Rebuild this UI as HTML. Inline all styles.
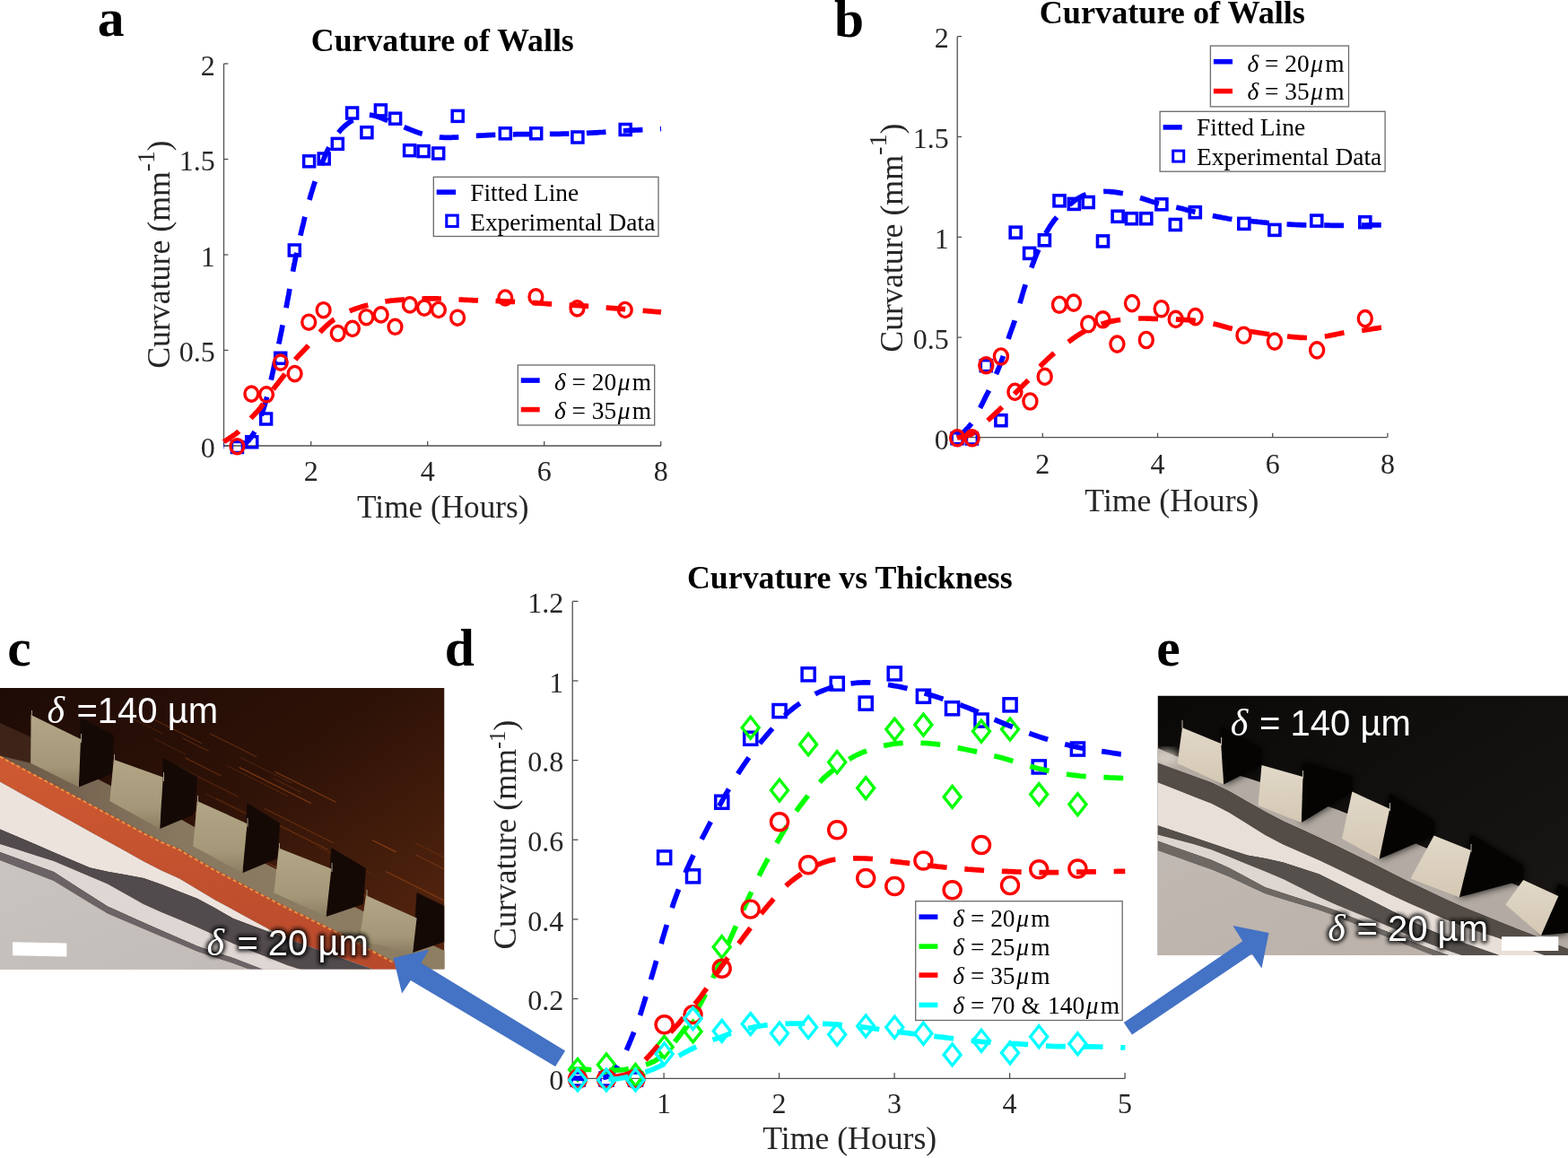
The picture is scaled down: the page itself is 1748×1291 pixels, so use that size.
<!DOCTYPE html>
<html><head><meta charset="utf-8"><title>Curvature figure</title>
<style>html,body{margin:0;padding:0;background:#fff;} svg{display:block;}</style></head>
<body><svg width="1748" height="1291" viewBox="0 0 1748 1291">
<rect width="1748" height="1291" fill="#fff"/>
<defs>
<filter id="glow" x="-10%" y="-30%" width="120%" height="160%"><feGaussianBlur stdDeviation="2.2"/></filter>
<filter id="soft" x="-20%" y="-20%" width="140%" height="140%"><feGaussianBlur stdDeviation="5"/></filter>
<linearGradient id="gbgc" x1="0" y1="0" x2="1" y2="1">
 <stop offset="0" stop-color="#1e0b06"/><stop offset="0.45" stop-color="#2e1207"/><stop offset="1" stop-color="#5a2810"/></linearGradient>
<linearGradient id="gfloorc" x1="0" y1="0" x2="1" y2="0">
 <stop offset="0" stop-color="#6a5646"/><stop offset="0.4" stop-color="#887860"/><stop offset="1" stop-color="#8e7e62"/></linearGradient>
<linearGradient id="gblockc" x1="0" y1="0" x2="0" y2="1">
 <stop offset="0" stop-color="#b2a686"/><stop offset="0.7" stop-color="#a49878"/><stop offset="1" stop-color="#8c7e62"/></linearGradient>
<linearGradient id="gorange" x1="0" y1="0" x2="0" y2="1">
 <stop offset="0" stop-color="#cf5a32"/><stop offset="1" stop-color="#b2452a"/></linearGradient>
<linearGradient id="ggreyc" x1="0" y1="0" x2="1" y2="1">
 <stop offset="0" stop-color="#c9c4c0"/><stop offset="1" stop-color="#bdb6b2"/></linearGradient>
<linearGradient id="gbge" x1="0" y1="0" x2="1" y2="1">
 <stop offset="0" stop-color="#0b0908"/><stop offset="0.6" stop-color="#141210"/><stop offset="1" stop-color="#1a1715"/></linearGradient>
<linearGradient id="gfloore" x1="0" y1="0" x2="0" y2="1">
 <stop offset="0" stop-color="#2a2622"/><stop offset="0.6" stop-color="#8a827a"/><stop offset="1" stop-color="#cfc7bf"/></linearGradient>
<linearGradient id="gblocke" x1="0" y1="0" x2="0" y2="1">
 <stop offset="0" stop-color="#e2d8c8"/><stop offset="1" stop-color="#d4c8b4"/></linearGradient>
<linearGradient id="ggreye" x1="0" y1="0" x2="1" y2="1">
 <stop offset="0" stop-color="#c0b8b2"/><stop offset="1" stop-color="#b8aea6"/></linearGradient>
</defs>
<clipPath id="clipc"><rect x="0" y="767" width="495.5" height="313.5"/></clipPath>
<g clip-path="url(#clipc)">
<rect x="0" y="767" width="495.5" height="313.5" fill="url(#gbgc)"/>
<line x1="253.6" y1="854.0" x2="320.9" y2="887.6" stroke="#d8641e" stroke-width="1.2" opacity="0.17"/>
<line x1="267.0" y1="844.0" x2="325.0" y2="872.9" stroke="#d8641e" stroke-width="1.1" opacity="0.16"/>
<line x1="172.4" y1="802.5" x2="224.9" y2="828.8" stroke="#d8641e" stroke-width="0.9" opacity="0.40"/>
<line x1="221.4" y1="923.7" x2="308.0" y2="967.0" stroke="#d8641e" stroke-width="1.1" opacity="0.32"/>
<line x1="462.4" y1="939.6" x2="543.2" y2="980.0" stroke="#d8641e" stroke-width="0.9" opacity="0.24"/>
<line x1="187.7" y1="849.4" x2="265.7" y2="888.4" stroke="#d8641e" stroke-width="1.3" opacity="0.20"/>
<line x1="354.5" y1="944.3" x2="415.1" y2="974.6" stroke="#d8641e" stroke-width="0.8" opacity="0.17"/>
<line x1="215.9" y1="930.4" x2="268.7" y2="956.8" stroke="#d8641e" stroke-width="1.3" opacity="0.24"/>
<line x1="295.0" y1="901.5" x2="371.7" y2="939.8" stroke="#d8641e" stroke-width="1.0" opacity="0.36"/>
<line x1="333.8" y1="961.4" x2="415.7" y2="1002.4" stroke="#d8641e" stroke-width="1.0" opacity="0.37"/>
<line x1="463.7" y1="953.1" x2="515.8" y2="979.2" stroke="#d8641e" stroke-width="0.9" opacity="0.38"/>
<line x1="306.5" y1="860.3" x2="374.9" y2="894.5" stroke="#d8641e" stroke-width="1.3" opacity="0.38"/>
<line x1="430.2" y1="971.6" x2="500.3" y2="1006.6" stroke="#d8641e" stroke-width="1.3" opacity="0.33"/>
<line x1="296.0" y1="999.2" x2="382.4" y2="1042.4" stroke="#d8641e" stroke-width="1.3" opacity="0.29"/>
<line x1="169.4" y1="911.0" x2="236.5" y2="944.5" stroke="#d8641e" stroke-width="1.5" opacity="0.45"/>
<line x1="241.1" y1="890.0" x2="309.5" y2="924.2" stroke="#d8641e" stroke-width="1.2" opacity="0.16"/>
<line x1="203.8" y1="823.0" x2="232.6" y2="837.4" stroke="#d8641e" stroke-width="0.9" opacity="0.38"/>
<line x1="229.2" y1="885.0" x2="310.9" y2="925.8" stroke="#d8641e" stroke-width="1.2" opacity="0.17"/>
<line x1="325.8" y1="1021.9" x2="404.1" y2="1061.0" stroke="#d8641e" stroke-width="1.0" opacity="0.41"/>
<line x1="282.9" y1="906.0" x2="365.4" y2="947.3" stroke="#d8641e" stroke-width="0.9" opacity="0.44"/>
<line x1="206.4" y1="844.9" x2="246.6" y2="865.0" stroke="#d8641e" stroke-width="1.3" opacity="0.30"/>
<line x1="234.1" y1="817.8" x2="286.3" y2="843.9" stroke="#d8641e" stroke-width="1.3" opacity="0.26"/>
<line x1="455.0" y1="1051.8" x2="513.5" y2="1081.0" stroke="#d8641e" stroke-width="1.3" opacity="0.34"/>
<line x1="167.3" y1="945.6" x2="243.0" y2="983.4" stroke="#d8641e" stroke-width="1.4" opacity="0.41"/>
<line x1="275.6" y1="909.6" x2="307.3" y2="925.5" stroke="#d8641e" stroke-width="0.8" opacity="0.34"/>
<line x1="171.6" y1="823.4" x2="207.1" y2="841.1" stroke="#d8641e" stroke-width="0.8" opacity="0.25"/>
<line x1="150.1" y1="802.3" x2="181.7" y2="818.1" stroke="#d8641e" stroke-width="0.8" opacity="0.26"/>
<line x1="429.8" y1="1025.4" x2="464.4" y2="1042.8" stroke="#d8641e" stroke-width="1.1" opacity="0.23"/>
<line x1="266.5" y1="855.4" x2="346.7" y2="895.5" stroke="#d8641e" stroke-width="1.2" opacity="0.45"/>
<line x1="304.8" y1="867.9" x2="336.5" y2="883.7" stroke="#d8641e" stroke-width="1.0" opacity="0.25"/>
<line x1="415.2" y1="936.7" x2="441.7" y2="949.9" stroke="#d8641e" stroke-width="1.2" opacity="0.44"/>
<line x1="196.9" y1="896.2" x2="223.7" y2="909.6" stroke="#d8641e" stroke-width="1.6" opacity="0.31"/>
<line x1="426.3" y1="1038.4" x2="468.2" y2="1059.4" stroke="#d8641e" stroke-width="0.9" opacity="0.26"/>
<line x1="397.0" y1="994.4" x2="472.7" y2="1032.2" stroke="#d8641e" stroke-width="1.0" opacity="0.25"/>
<polygon points="0.0,812.6 20.0,822.9 40.0,833.1 60.0,843.4 80.0,853.6 100.0,863.9 120.0,874.2 140.0,884.5 160.0,894.8 180.0,904.4 200.0,912.5 220.0,923.7 240.0,934.8 260.0,944.9 280.0,955.0 300.0,965.1 320.0,974.9 340.0,984.3 360.0,993.7 380.0,1003.1 400.0,1013.4 420.0,1023.8 440.0,1034.0 460.0,1043.4 480.0,1052.8 495.5,1060.1 500.0,1062.2 500.0,1102.2 495.5,1100.0 480.0,1092.4 460.0,1082.6 440.0,1072.8 420.0,1062.2 400.0,1051.4 380.0,1040.7 360.0,1030.9 340.0,1021.1 320.0,1011.3 300.0,1001.1 280.0,990.6 260.0,980.1 240.0,969.6 220.0,958.0 200.0,946.5 180.0,938.0 160.0,928.0 140.0,917.3 120.0,906.6 100.0,895.9 80.0,885.2 60.0,874.6 40.0,863.9 20.0,853.3 0.0,842.6" fill="url(#gfloorc)" />
<polygon points="0.0,806.0 35.0,822.0 34.2,850.7 0.0,842.6" fill="#3e2418" />
<polygon points="90.0,800.0 127.0,820.0 125.0,862.6 87.8,877.5" fill="#150906" />
<polygon points="181.8,845.0 220.0,866.0 217.0,907.8 178.1,924.1" fill="#150906" />
<polygon points="275.5,895.0 312.0,918.0 309.7,956.8 270.3,973.2" fill="#150906" />
<polygon points="369.4,945.0 408.0,968.0 405.0,1008.0 363.5,1022.0" fill="#150906" />
<polygon points="464.6,995.0 495.5,1010.0 495.5,1050.0 460.1,1062.1" fill="#150906" />
<polygon points="34.5,797.0 90.0,824.0 87.8,877.5 34.2,850.7" fill="url(#gblockc)" />
<polygon points="126.8,846.8 181.8,866.5 178.1,924.1 122.3,893.0" fill="url(#gblockc)" />
<polygon points="219.7,892.9 275.5,918.2 270.3,973.2 215.3,943.5" fill="url(#gblockc)" />
<polygon points="310.7,945.4 369.4,968.4 363.5,1022.0 305.4,995.2" fill="url(#gblockc)" />
<polygon points="408.0,998.2 464.6,1023.5 460.1,1062.1 400.6,1048.7" fill="url(#gblockc)" />
<line x1="35.5" y1="792" x2="35.5" y2="802" stroke="#a89a80" stroke-width="1"/>
<line x1="90.5" y1="818" x2="90.5" y2="828" stroke="#a89a80" stroke-width="1"/>
<line x1="127.5" y1="841" x2="127.5" y2="851" stroke="#a89a80" stroke-width="1"/>
<line x1="182.5" y1="861" x2="182.5" y2="871" stroke="#a89a80" stroke-width="1"/>
<line x1="220.5" y1="887" x2="220.5" y2="897" stroke="#a89a80" stroke-width="1"/>
<line x1="276" y1="912" x2="276" y2="922" stroke="#a89a80" stroke-width="1"/>
<line x1="311.5" y1="940" x2="311.5" y2="950" stroke="#a89a80" stroke-width="1"/>
<line x1="370" y1="962" x2="370" y2="972" stroke="#a89a80" stroke-width="1"/>
<line x1="409" y1="992" x2="409" y2="1002" stroke="#a89a80" stroke-width="1"/>
<polygon points="0.0,842.6 20.0,853.3 40.0,863.9 60.0,874.6 80.0,885.2 100.0,895.9 120.0,906.6 140.0,917.3 160.0,928.0 180.0,938.0 200.0,946.5 220.0,958.0 240.0,969.6 260.0,980.1 280.0,990.6 300.0,1001.1 320.0,1011.3 340.0,1021.1 360.0,1030.9 380.0,1040.7 400.0,1051.4 420.0,1062.2 440.0,1072.8 460.0,1082.6 480.0,1092.4 495.5,1100.0 500.0,1102.2 500.0,1141.2 495.5,1138.9 480.0,1131.0 460.0,1120.8 440.0,1110.6 420.0,1099.6 400.0,1088.4 380.0,1077.3 360.0,1067.1 340.0,1056.9 320.0,1046.7 300.0,1036.1 280.0,1025.2 260.0,1014.3 240.0,1003.4 220.0,991.5 200.0,979.5 180.0,970.6 160.0,960.2 140.0,949.1 120.0,938.0 100.0,926.9 80.0,915.8 60.0,904.8 40.0,893.7 20.0,882.7 0.0,871.6" fill="url(#gorange)" />
<polyline points="0,843.6 100,896.9 160,929 180,939 200,947.5 240,970.6 314.4,1009.6 379.8,1041.6 439.3,1073.5 495.5,1101" fill="none" stroke="#f0a048" stroke-width="2" stroke-dasharray="4 3" opacity="0.85"/>
<polygon points="0.0,871.6 20.0,882.7 40.0,893.7 60.0,904.8 80.0,915.8 100.0,926.9 120.0,938.0 140.0,949.1 160.0,960.2 180.0,970.6 200.0,979.5 220.0,991.5 240.0,1003.4 260.0,1014.3 280.0,1025.2 300.0,1036.1 320.0,1046.7 340.0,1056.9 360.0,1067.1 380.0,1077.3 400.0,1088.4 420.0,1099.6 440.0,1110.6 460.0,1120.8 480.0,1131.0 495.5,1138.9 500.0,1141.2 500.0,1101.1 495.5,1100.0 480.0,1096.3 460.0,1091.5 440.0,1086.8 420.0,1082.0 400.0,1074.9 380.0,1067.8 360.0,1060.7 340.0,1053.6 320.0,1046.3 300.0,1038.9 280.0,1031.4 260.0,1024.0 240.0,1012.6 220.0,1001.8 200.0,993.9 180.0,986.0 160.0,978.9 140.0,975.3 120.0,971.8 100.0,967.3 80.0,958.7 60.0,950.2 40.0,941.6 20.0,933.1 0.0,924.5" fill="#ede3dd" />
<polygon points="0.0,924.5 20.0,933.1 40.0,941.6 60.0,950.2 80.0,958.7 100.0,967.3 120.0,971.8 140.0,975.3 160.0,978.9 180.0,986.0 200.0,993.9 220.0,1001.8 240.0,1012.6 260.0,1024.0 280.0,1031.4 300.0,1038.9 320.0,1046.3 340.0,1053.6 360.0,1060.7 380.0,1067.8 400.0,1074.9 420.0,1082.0 440.0,1086.8 460.0,1091.5 480.0,1096.3 495.5,1100.0 500.0,1101.1 500.0,1121.1 495.5,1120.0 480.0,1116.3 460.0,1111.4 440.0,1106.6 420.0,1101.8 400.0,1096.9 380.0,1092.1 360.0,1087.3 340.0,1082.4 320.0,1076.0 300.0,1068.0 280.0,1060.0 260.0,1052.0 240.0,1042.8 220.0,1033.7 200.0,1025.3 180.0,1016.9 160.0,1008.0 140.0,996.8 120.0,985.6 100.0,976.9 80.0,968.5 60.0,960.0 40.0,953.7 20.0,947.3 0.0,941.0" fill="#514b4d" />
<polygon points="0.0,941.0 20.0,947.3 40.0,953.7 60.0,960.0 80.0,968.5 100.0,976.9 120.0,985.6 140.0,996.8 160.0,1008.0 180.0,1016.9 200.0,1025.3 220.0,1033.7 240.0,1042.8 260.0,1052.0 280.0,1060.0 300.0,1068.0 320.0,1076.0 340.0,1082.4 360.0,1087.3 380.0,1092.1 400.0,1096.9 420.0,1101.8 440.0,1106.6 460.0,1111.4 480.0,1116.3 495.5,1120.0 500.0,1121.1 500.0,1131.0 495.5,1130.0 480.0,1126.7 460.0,1122.5 440.0,1118.3 420.0,1114.0 400.0,1109.8 380.0,1105.6 360.0,1101.3 340.0,1097.1 320.0,1091.1 300.0,1083.4 280.0,1075.7 260.0,1068.0 240.0,1061.5 220.0,1054.7 200.0,1045.9 180.0,1037.2 160.0,1028.4 140.0,1019.4 120.0,1010.4 100.0,997.8 80.0,984.9 60.0,972.0 40.0,964.7 20.0,957.3 0.0,950.0" fill="#ded6d2" />
<polygon points="0.0,950.0 20.0,957.3 40.0,964.7 60.0,972.0 80.0,984.9 100.0,997.8 120.0,1010.4 140.0,1019.4 160.0,1028.4 180.0,1037.2 200.0,1045.9 220.0,1054.7 240.0,1061.5 260.0,1068.0 280.0,1075.7 300.0,1083.4 320.0,1091.1 340.0,1097.1 360.0,1101.3 380.0,1105.6 400.0,1109.8 420.0,1114.0 440.0,1118.3 460.0,1122.5 480.0,1126.7 495.5,1130.0 500.0,1131.0 500.0,1136.0 495.5,1135.0 480.0,1131.7 460.0,1127.5 440.0,1123.3 420.0,1119.0 400.0,1114.8 380.0,1110.6 360.0,1106.3 340.0,1102.1 320.0,1096.3 300.0,1088.9 280.0,1081.4 260.0,1074.0 240.0,1067.5 220.0,1060.7 200.0,1052.3 180.0,1043.9 160.0,1035.5 140.0,1026.9 120.0,1018.4 100.0,1006.4 80.0,994.2 60.0,982.0 40.0,974.3 20.0,966.7 0.0,959.0" fill="#6a6466" />
<polygon points="0.0,959.0 20.0,966.7 40.0,974.3 60.0,982.0 80.0,994.2 100.0,1006.4 120.0,1018.4 140.0,1026.9 160.0,1035.5 180.0,1043.9 200.0,1052.3 220.0,1060.7 240.0,1067.5 260.0,1074.0 280.0,1081.4 300.0,1088.9 320.0,1096.3 340.0,1102.1 360.0,1106.3 380.0,1110.6 400.0,1114.8 420.0,1119.0 440.0,1123.3 460.0,1127.5 480.0,1131.7 495.5,1135.0 500.0,1136.0 500.0,1140.5 495.5,1140.0 480.0,1138.4 460.0,1136.4 440.0,1134.4 420.0,1132.4 400.0,1130.4 380.0,1128.3 360.0,1126.3 340.0,1124.3 320.0,1122.3 300.0,1120.3 280.0,1118.3 260.0,1116.2 240.0,1114.2 220.0,1112.2 200.0,1110.2 180.0,1108.2 160.0,1106.1 140.0,1104.1 120.0,1102.1 100.0,1100.1 80.0,1098.1 60.0,1096.1 40.0,1094.0 20.0,1092.0 0.0,1090.0" fill="url(#ggreyc)" />
<polygon points="14.1,1050.2 74.4,1051.5 74.4,1066.5 14.1,1065.2" fill="#fff"/>
</g>
<text x="52.5" y="806.2" font-family="Liberation Serif,serif" font-style="italic" font-size="42" fill="#fff">δ</text><text x="85.5" y="806.2" font-family="Liberation Sans,Arial,sans-serif" font-size="40" fill="#fff">=140 µm</text>
<g filter="url(#glow)" fill="#000" stroke="#000" stroke-width="5" stroke-linejoin="round" opacity="0.85"><text x="230.5" y="1064.5" font-family="Liberation Serif,serif" font-style="italic" font-size="42">δ</text><text x="264.4" y="1064.5" font-family="Liberation Sans,Arial,sans-serif" font-size="40">= 20 µm</text></g><text x="230.5" y="1064.5" font-family="Liberation Serif,serif" font-style="italic" font-size="42" fill="#fff">δ</text><text x="264.4" y="1064.5" font-family="Liberation Sans,Arial,sans-serif" font-size="40" fill="#fff">= 20 µm</text>
<clipPath id="clipe"><rect x="1290.5" y="775.5" width="457.5" height="289.5"/></clipPath>
<g clip-path="url(#clipe)">
<rect x="1290.5" y="775.5" width="457.5" height="289.5" fill="url(#gbge)"/>
<polygon points="1290.5,834.0 1310.5,842.7 1330.5,849.7 1350.5,855.5 1370.5,861.4 1390.5,867.2 1410.5,873.8 1430.5,881.0 1450.5,888.2 1470.5,895.4 1490.5,902.6 1510.5,910.6 1530.5,919.4 1550.5,928.2 1570.5,937.0 1590.5,945.8 1610.5,954.3 1630.5,962.4 1650.5,970.5 1670.5,978.6 1690.5,986.7 1710.5,994.8 1730.5,1002.9 1748.0,1010.0 1750.5,1011.0 1750.5,1059.0 1748.0,1058.0 1730.5,1051.1 1710.5,1043.1 1690.5,1035.2 1670.5,1027.2 1650.5,1019.1 1630.5,1011.0 1610.5,1002.0 1590.5,992.5 1570.5,983.0 1550.5,973.1 1530.5,962.7 1510.5,952.9 1490.5,943.3 1470.5,933.8 1450.5,924.6 1430.5,915.4 1410.5,905.1 1390.5,893.7 1370.5,882.2 1350.5,872.6 1330.5,865.2 1310.5,857.9 1290.5,850.5" fill="#b3aba3" />
<ellipse cx="1300" cy="845" rx="14" ry="9" fill="#d6cec4" opacity="0.9" filter="url(#soft)"/>
<g filter="url(#soft)" fill="#050403">
<polygon points="1361.2,810.0 1405.8,835.0 1405.8,853.0 1364.0,874.4" fill="#050403" />
<polygon points="1452.5,850.0 1507.4,865.0 1507.4,882.6 1451.1,916.9" fill="#050403" />
<polygon points="1549.2,885.0 1598.6,915.0 1598.6,931.6 1537.5,957.7" fill="#050403" />
<polygon points="1639.8,930.0 1698.2,965.0 1698.2,981.0 1626.8,1000.2" fill="#050403" />
<polygon points="1737.3,985.0 1748.0,990.0 1748.0,1040.0 1718.0,1042.8" fill="#050403" />
</g>
<polygon points="1361.2,810.0 1405.8,835.0 1405.8,853.0 1364.0,874.4" fill="#050403" />
<polygon points="1452.5,850.0 1507.4,865.0 1507.4,882.6 1451.1,916.9" fill="#050403" />
<polygon points="1549.2,885.0 1598.6,915.0 1598.6,931.6 1537.5,957.7" fill="#050403" />
<polygon points="1639.8,930.0 1698.2,965.0 1698.2,981.0 1626.8,1000.2" fill="#050403" />
<polygon points="1737.3,985.0 1748.0,990.0 1748.0,1040.0 1718.0,1042.8" fill="#050403" />
<polygon points="1318.0,811.2 1361.2,829.0 1364.0,874.4 1312.5,851.0" fill="url(#gblocke)" />
<polygon points="1406.5,853.0 1452.5,866.1 1450.6,916.9 1402.5,898.0" fill="url(#gblocke)" />
<polygon points="1507.4,882.6 1549.2,901.8 1537.5,957.7 1496.0,935.0" fill="url(#gblocke)" />
<polygon points="1598.6,931.6 1639.8,948.1 1626.8,1000.2 1572.5,979.6" fill="url(#gblocke)" />
<polygon points="1698.2,981.0 1737.3,998.9 1718.0,1042.8 1678.3,1008.5" fill="url(#gblocke)" />
<line x1="1318" y1="803" x2="1318" y2="812" stroke="#bdb3a6" stroke-width="1"/>
<line x1="1361.5" y1="822" x2="1361.5" y2="831" stroke="#bdb3a6" stroke-width="1"/>
<line x1="1452.5" y1="859" x2="1452.5" y2="868" stroke="#bdb3a6" stroke-width="1"/>
<line x1="1549.5" y1="895" x2="1549.5" y2="904" stroke="#bdb3a6" stroke-width="1"/>
<line x1="1640" y1="941" x2="1640" y2="950" stroke="#bdb3a6" stroke-width="1"/>
<polygon points="1290.5,850.5 1310.5,857.9 1330.5,865.2 1350.5,872.6 1370.5,882.2 1390.5,893.7 1410.5,905.1 1430.5,915.4 1450.5,924.6 1470.5,933.8 1490.5,943.3 1510.5,952.9 1530.5,962.7 1550.5,973.1 1570.5,983.0 1590.5,992.5 1610.5,1002.0 1630.5,1011.0 1650.5,1019.1 1670.5,1027.2 1690.5,1035.2 1710.5,1043.1 1730.5,1051.1 1748.0,1058.0 1750.5,1059.0 1750.5,1076.0 1748.0,1075.0 1730.5,1068.3 1710.5,1060.7 1690.5,1053.0 1670.5,1045.8 1650.5,1039.2 1630.5,1032.5 1610.5,1024.4 1590.5,1015.6 1570.5,1006.7 1550.5,997.4 1530.5,987.8 1510.5,978.2 1490.5,968.6 1470.5,959.1 1450.5,950.3 1430.5,941.5 1410.5,931.0 1390.5,918.5 1370.5,906.0 1350.5,895.7 1330.5,887.9 1310.5,880.0 1290.5,872.2" fill="#544c46" />
<polygon points="1290.5,872.2 1310.5,880.0 1330.5,887.9 1350.5,895.7 1370.5,906.0 1390.5,918.5 1410.5,931.0 1430.5,941.5 1450.5,950.3 1470.5,959.1 1490.5,968.6 1510.5,978.2 1530.5,987.8 1550.5,997.4 1570.5,1006.7 1590.5,1015.6 1610.5,1024.4 1630.5,1032.5 1650.5,1039.2 1670.5,1045.8 1690.5,1053.0 1710.5,1060.7 1730.5,1068.3 1748.0,1075.0 1750.5,1076.0 1750.5,1092.9 1748.0,1092.0 1730.5,1085.9 1710.5,1078.8 1690.5,1071.8 1670.5,1064.8 1650.5,1057.7 1630.5,1050.7 1610.5,1043.7 1590.5,1035.2 1570.5,1025.1 1550.5,1014.9 1530.5,1004.8 1510.5,994.6 1490.5,984.4 1470.5,974.5 1450.5,968.0 1430.5,961.4 1410.5,956.9 1390.5,953.6 1370.5,947.0 1350.5,940.3 1330.5,933.6 1310.5,926.9 1290.5,920.2" fill="#e8dfd8" />
<polygon points="1290.5,920.2 1310.5,926.9 1330.5,933.6 1350.5,940.3 1370.5,947.0 1390.5,953.6 1410.5,956.9 1430.5,961.4 1450.5,968.0 1470.5,974.5 1490.5,984.4 1510.5,994.6 1530.5,1004.8 1550.5,1014.9 1570.5,1025.1 1590.5,1035.2 1610.5,1043.7 1630.5,1050.7 1650.5,1057.7 1670.5,1064.8 1690.5,1071.8 1710.5,1078.8 1730.5,1085.9 1748.0,1092.0 1750.5,1092.9 1750.5,1105.8 1748.0,1105.0 1730.5,1099.1 1710.5,1092.3 1690.5,1085.6 1670.5,1078.8 1650.5,1072.1 1630.5,1065.3 1610.5,1058.5 1590.5,1050.9 1570.5,1042.4 1550.5,1033.8 1530.5,1025.2 1510.5,1017.2 1490.5,1009.1 1470.5,1000.0 1450.5,990.0 1430.5,980.0 1410.5,971.6 1390.5,963.4 1370.5,955.3 1350.5,947.3 1330.5,940.9 1310.5,935.8 1290.5,930.6" fill="#55504c" />
<polygon points="1290.5,930.6 1310.5,935.8 1330.5,940.9 1350.5,947.3 1370.5,955.3 1390.5,963.4 1410.5,971.6 1430.5,980.0 1450.5,990.0 1470.5,1000.0 1490.5,1009.1 1510.5,1017.2 1530.5,1025.2 1550.5,1033.8 1570.5,1042.4 1590.5,1050.9 1610.5,1058.5 1630.5,1065.3 1650.5,1072.1 1670.5,1078.8 1690.5,1085.6 1710.5,1092.3 1730.5,1099.1 1748.0,1105.0 1750.5,1105.8 1750.5,1110.8 1748.0,1110.0 1730.5,1104.1 1710.5,1097.3 1690.5,1090.6 1670.5,1083.8 1650.5,1077.1 1630.5,1070.3 1610.5,1063.5 1590.5,1056.2 1570.5,1048.2 1550.5,1040.2 1530.5,1032.2 1510.5,1023.9 1490.5,1015.6 1470.5,1008.5 1450.5,1002.2 1430.5,995.8 1410.5,989.2 1390.5,978.5 1370.5,967.8 1350.5,958.8 1330.5,951.7 1310.5,944.7 1290.5,937.6" fill="#ddd5cf" />
<polygon points="1290.5,937.6 1310.5,944.7 1330.5,951.7 1350.5,958.8 1370.5,967.8 1390.5,978.5 1410.5,989.2 1430.5,995.8 1450.5,1002.2 1470.5,1008.5 1490.5,1015.6 1510.5,1023.9 1530.5,1032.2 1550.5,1040.2 1570.5,1048.2 1590.5,1056.2 1610.5,1063.5 1630.5,1070.3 1650.5,1077.1 1670.5,1083.8 1690.5,1090.6 1710.5,1097.3 1730.5,1104.1 1748.0,1110.0 1750.5,1110.8 1750.5,1115.8 1748.0,1115.0 1730.5,1109.2 1710.5,1102.6 1690.5,1096.0 1670.5,1089.3 1650.5,1082.7 1630.5,1076.1 1610.5,1069.5 1590.5,1062.2 1570.5,1054.2 1550.5,1046.2 1530.5,1038.2 1510.5,1029.9 1490.5,1021.6 1470.5,1014.6 1450.5,1008.6 1430.5,1002.6 1410.5,996.3 1390.5,986.9 1370.5,977.6 1350.5,969.2 1330.5,962.2 1310.5,955.1 1290.5,948.0" fill="#6e6864" />
<polygon points="1290.5,948.0 1310.5,955.1 1330.5,962.2 1350.5,969.2 1370.5,977.6 1390.5,986.9 1410.5,996.3 1430.5,1002.6 1450.5,1008.6 1470.5,1014.6 1490.5,1021.6 1510.5,1029.9 1530.5,1038.2 1550.5,1046.2 1570.5,1054.2 1590.5,1062.2 1610.5,1069.5 1630.5,1076.1 1650.5,1082.7 1670.5,1089.3 1690.5,1096.0 1710.5,1102.6 1730.5,1109.2 1748.0,1115.0 1750.5,1115.8 1750.5,1120.3 1748.0,1120.0 1730.5,1118.1 1710.5,1115.9 1690.5,1113.7 1670.5,1111.5 1650.5,1109.3 1630.5,1107.2 1610.5,1105.0 1590.5,1102.8 1570.5,1100.6 1550.5,1098.4 1530.5,1096.2 1510.5,1094.0 1490.5,1091.9 1470.5,1089.7 1450.5,1087.5 1430.5,1085.3 1410.5,1083.1 1390.5,1080.9 1370.5,1078.7 1350.5,1076.6 1330.5,1074.4 1310.5,1072.2 1290.5,1070.0" fill="url(#ggreye)" />
<rect x="1674.1" y="1044.2" width="63.2" height="15.8" fill="#fff"/>
</g>
<text x="1371.8" y="820.1" font-family="Liberation Serif,serif" font-style="italic" font-size="42" fill="#fff">δ</text><text x="1404.1" y="820.1" font-family="Liberation Sans,Arial,sans-serif" font-size="40" fill="#fff">= 140 µm</text>
<g filter="url(#glow)" fill="#000" stroke="#000" stroke-width="5" stroke-linejoin="round" opacity="0.85"><text x="1480.2" y="1049.4" font-family="Liberation Serif,serif" font-style="italic" font-size="42">δ</text><text x="1512.5" y="1049.4" font-family="Liberation Sans,Arial,sans-serif" font-size="40">= 20 µm</text></g><text x="1480.2" y="1049.4" font-family="Liberation Serif,serif" font-style="italic" font-size="42" fill="#fff">δ</text><text x="1512.5" y="1049.4" font-family="Liberation Sans,Arial,sans-serif" font-size="40" fill="#fff">= 20 µm</text>
<text x="108.7" y="39.6" font-family="'Liberation Serif','Times New Roman',serif" font-size="59.5" font-weight="bold" text-anchor="start" fill="#000" >a</text>
<text x="493.3" y="57" font-family="'Liberation Serif','Times New Roman',serif" font-size="35.8" font-weight="bold" text-anchor="middle" fill="#000" >Curvature of Walls</text>
<path d="M249.5,71 L249.5,497 L737,497" fill="none" stroke="#505050" stroke-width="1.3"/>
<line x1="346.7" y1="497" x2="346.7" y2="492.1" stroke="#505050" stroke-width="1.3"/>
<text x="346.7" y="535.7" font-family="'Liberation Serif','Times New Roman',serif" font-size="32" font-weight="normal" text-anchor="middle" fill="#262626" >2</text>
<line x1="476.7" y1="497" x2="476.7" y2="492.1" stroke="#505050" stroke-width="1.3"/>
<text x="476.7" y="535.7" font-family="'Liberation Serif','Times New Roman',serif" font-size="32" font-weight="normal" text-anchor="middle" fill="#262626" >4</text>
<line x1="606.7" y1="497" x2="606.7" y2="492.1" stroke="#505050" stroke-width="1.3"/>
<text x="606.7" y="535.7" font-family="'Liberation Serif','Times New Roman',serif" font-size="32" font-weight="normal" text-anchor="middle" fill="#262626" >6</text>
<line x1="736.7" y1="497" x2="736.7" y2="492.1" stroke="#505050" stroke-width="1.3"/>
<text x="736.7" y="535.7" font-family="'Liberation Serif','Times New Roman',serif" font-size="32" font-weight="normal" text-anchor="middle" fill="#262626" >8</text>
<line x1="249.5" y1="497" x2="254.4" y2="497" stroke="#505050" stroke-width="1.3"/>
<text x="239.8" y="509.64" font-family="'Liberation Serif','Times New Roman',serif" font-size="32" font-weight="normal" text-anchor="end" fill="#262626" >0</text>
<line x1="249.5" y1="390.5" x2="254.4" y2="390.5" stroke="#505050" stroke-width="1.3"/>
<text x="239.8" y="403.14" font-family="'Liberation Serif','Times New Roman',serif" font-size="32" font-weight="normal" text-anchor="end" fill="#262626" >0.5</text>
<line x1="249.5" y1="284" x2="254.4" y2="284" stroke="#505050" stroke-width="1.3"/>
<text x="239.8" y="296.64" font-family="'Liberation Serif','Times New Roman',serif" font-size="32" font-weight="normal" text-anchor="end" fill="#262626" >1</text>
<line x1="249.5" y1="177.5" x2="254.4" y2="177.5" stroke="#505050" stroke-width="1.3"/>
<text x="239.8" y="190.14" font-family="'Liberation Serif','Times New Roman',serif" font-size="32" font-weight="normal" text-anchor="end" fill="#262626" >1.5</text>
<line x1="249.5" y1="71" x2="254.4" y2="71" stroke="#505050" stroke-width="1.3"/>
<text x="239.8" y="83.64" font-family="'Liberation Serif','Times New Roman',serif" font-size="32" font-weight="normal" text-anchor="end" fill="#262626" >2</text>
<text transform="translate(189,283.7) rotate(-90)" font-family="'Liberation Serif','Times New Roman',serif" font-size="35.8" text-anchor="middle" fill="#262626">Curvature (mm<tspan dy="-17.2" font-size="27.2">-1</tspan><tspan dy="17.2">)</tspan></text>
<text x="493.75" y="577.3" font-family="'Liberation Serif','Times New Roman',serif" font-size="35.2" font-weight="normal" text-anchor="middle" fill="#262626" >Time (Hours)</text>
<g fill="none" stroke="#0000ff" stroke-width="3.5"><rect x="258.4" y="492.5" width="12.0" height="12.0"/><rect x="274.7" y="486.8" width="12.0" height="12.0"/><rect x="290.6" y="461.0" width="12.0" height="12.0"/><rect x="306.7" y="393.3" width="12.0" height="12.0"/><rect x="322.3" y="273.0" width="12.0" height="12.0"/><rect x="338.6" y="173.8" width="12.0" height="12.0"/><rect x="355.2" y="171.0" width="12.0" height="12.0"/><rect x="370.3" y="154.4" width="12.0" height="12.0"/><rect x="386.6" y="120.0" width="12.0" height="12.0"/><rect x="402.9" y="141.7" width="12.0" height="12.0"/><rect x="418.4" y="116.9" width="12.0" height="12.0"/><rect x="434.6" y="126.2" width="12.0" height="12.0"/><rect x="450.6" y="161.7" width="12.0" height="12.0"/><rect x="466.1" y="162.6" width="12.0" height="12.0"/><rect x="482.7" y="165.0" width="12.0" height="12.0"/><rect x="504.2" y="123.4" width="12.0" height="12.0"/><rect x="557.3" y="142.8" width="12.0" height="12.0"/><rect x="591.7" y="142.8" width="12.0" height="12.0"/><rect x="637.9" y="147.0" width="12.0" height="12.0"/><rect x="691.2" y="138.5" width="12.0" height="12.0"/></g>
<path d="M249.5,497.5 L250.1,497.5 L250.9,497.5 L251.9,497.5 L252.9,497.5 L254.1,497.6 L255.2,497.6 L256.5,497.6 L257.7,497.6 L258.9,497.6 L260.0,497.6 L261.1,497.5 L262.0,497.5 L262.8,497.5 L263.6,497.5 L264.3,497.4 L265.0,497.4 L265.7,497.4 L266.3,497.4 L266.9,497.4 L267.5,497.3 L268.1,497.2 L268.7,497.0 L269.3,496.8 L270.0,496.5 L270.7,496.2 L271.3,495.8 L272.0,495.4 L272.7,494.9 L273.4,494.4 L274.1,493.9 L274.7,493.3 L275.4,492.7 L276.1,492.1 L276.7,491.4 L277.4,490.7 L278.0,490.0 L278.6,489.3 L279.2,488.5 L279.8,487.7 L280.4,486.8 L281.0,485.9 L281.6,485.0 L282.2,484.1 L282.8,483.1 L283.3,482.1 L283.9,481.1 L284.5,480.1 L285.0,479.0 L285.5,477.9 L286.1,476.8 L286.6,475.6 L287.1,474.4 L287.6,473.2 L288.1,472.0 L288.6,470.7 L289.0,469.4 L289.5,468.1 L290.0,466.8 L290.5,465.4 L291.0,464.0 L291.5,462.6 L292.0,461.1 L292.5,459.7 L293.0,458.2 L293.5,456.7 L294.0,455.1 L294.5,453.5 L295.0,451.9 L295.5,450.3 L296.0,448.6 L296.5,446.8 L297.0,445.0 L297.5,443.1 L298.0,441.2 L298.5,439.2 L299.0,437.2 L299.5,435.2 L300.0,433.1 L300.5,430.9 L301.0,428.8 L301.5,426.6 L302.0,424.4 L302.5,422.2 L303.0,420.0 L303.5,417.8 L304.0,415.5 L304.5,413.2 L305.0,410.9 L305.5,408.6 L306.0,406.2 L306.5,403.9 L307.0,401.5 L307.5,399.1 L308.0,396.8 L308.5,394.4 L309.0,392.0 L309.5,389.6 L310.0,387.2 L310.5,384.7 L311.0,382.3 L311.6,379.8 L312.1,377.3 L312.6,374.9 L313.1,372.4 L313.6,370.0 L314.1,367.6 L314.5,365.3 L315.0,363.0 L315.5,360.8 L315.9,358.6 L316.3,356.5 L316.7,354.4 L317.2,352.4 L317.6,350.4 L318.0,348.4 L318.4,346.3 L318.8,344.3 L319.2,342.2 L319.6,340.1 L320.0,338.0 L320.4,335.8 L320.8,333.6 L321.2,331.4 L321.7,329.1 L322.1,326.8 L322.5,324.6 L322.9,322.3 L323.3,320.0 L323.8,317.7 L324.2,315.5 L324.6,313.2 L325.0,311.0 L325.4,308.8 L325.8,306.6 L326.2,304.5 L326.6,302.3 L327.0,300.1 L327.4,298.0 L327.8,295.9 L328.3,293.7 L328.7,291.5 L329.1,289.4 L329.5,287.2 L330.0,285.0 L330.5,282.8 L330.9,280.6 L331.4,278.3 L331.9,276.1 L332.4,273.9 L332.9,271.6 L333.4,269.4 L333.9,267.1 L334.4,264.8 L334.9,262.6 L335.5,260.3 L336.0,258.0 L336.5,255.7 L337.1,253.3 L337.7,251.0 L338.3,248.6 L338.8,246.2 L339.4,243.8 L340.0,241.4 L340.6,239.1 L341.2,236.7 L341.8,234.4 L342.4,232.2 L343.0,230.0 L343.6,227.9 L344.2,225.7 L344.7,223.7 L345.3,221.6 L345.9,219.6 L346.4,217.6 L347.0,215.7 L347.6,213.7 L348.2,211.8 L348.8,209.8 L349.4,207.9 L350.0,206.0 L350.6,204.1 L351.3,202.2 L351.9,200.3 L352.6,198.4 L353.2,196.6 L353.9,194.8 L354.5,192.9 L355.2,191.1 L355.9,189.3 L356.6,187.5 L357.3,185.8 L358.0,184.0 L358.7,182.3 L359.4,180.5 L360.1,178.8 L360.9,177.1 L361.6,175.4 L362.3,173.7 L363.1,172.0 L363.8,170.4 L364.6,168.7 L365.4,167.1 L366.2,165.6 L367.0,164.0 L367.8,162.5 L368.7,160.9 L369.6,159.4 L370.5,157.9 L371.4,156.4 L372.3,154.9 L373.2,153.5 L374.2,152.1 L375.1,150.8 L376.1,149.5 L377.0,148.2 L378.0,147.0 L379.0,145.9 L379.9,144.8 L380.9,143.7 L381.9,142.7 L382.9,141.8 L383.9,140.8 L384.9,140.0 L385.9,139.1 L386.9,138.3 L387.9,137.5 L389.0,136.7 L390.0,136.0 L391.1,135.3 L392.1,134.6 L393.2,133.9 L394.3,133.3 L395.4,132.7 L396.5,132.1 L397.6,131.6 L398.7,131.1 L399.8,130.6 L400.9,130.2 L401.9,129.8 L403.0,129.5 L404.0,129.2 L405.0,128.9 L406.0,128.7 L407.0,128.5 L407.9,128.4 L408.9,128.3 L409.8,128.2 L410.8,128.2 L411.8,128.2 L412.8,128.3 L413.9,128.4 L415.0,128.5 L416.1,128.7 L417.3,129.0 L418.4,129.3 L419.6,129.6 L420.8,130.0 L422.0,130.4 L423.2,130.9 L424.5,131.4 L425.8,131.9 L427.2,132.4 L428.6,133.0 L430.0,133.5 L431.5,134.1 L433.0,134.7 L434.6,135.3 L436.3,136.0 L438.0,136.6 L439.7,137.3 L441.4,138.1 L443.1,138.8 L444.9,139.5 L446.6,140.2 L448.3,140.8 L450.0,141.5 L451.7,142.2 L453.3,142.8 L455.0,143.5 L456.7,144.2 L458.3,144.8 L460.0,145.5 L461.7,146.1 L463.3,146.8 L465.0,147.4 L466.7,148.0 L468.3,148.5 L470.0,149.0 L471.7,149.5 L473.3,149.9 L475.0,150.3 L476.7,150.7 L478.3,151.1 L480.0,151.5 L481.7,151.8 L483.3,152.1 L485.0,152.4 L486.7,152.6 L488.3,152.8 L490.0,153.0 L491.7,153.1 L493.3,153.2 L495.0,153.3 L496.7,153.4 L498.3,153.4 L500.0,153.3 L501.7,153.3 L503.3,153.3 L505.0,153.2 L506.7,153.1 L508.3,153.1 L510.0,153.0 L511.6,152.9 L513.2,152.8 L514.8,152.7 L516.3,152.6 L517.8,152.5 L519.4,152.3 L521.0,152.2 L522.6,152.1 L524.3,151.9 L526.1,151.8 L528.0,151.6 L530.0,151.5 L532.1,151.4 L534.3,151.2 L536.6,151.1 L538.9,151.0 L541.3,150.8 L543.8,150.7 L546.3,150.6 L548.9,150.4 L551.6,150.3 L554.3,150.2 L557.1,150.1 L560.0,150.0 L563.0,149.9 L566.1,149.9 L569.3,149.8 L572.6,149.8 L576.0,149.7 L579.4,149.7 L582.8,149.7 L586.3,149.6 L589.8,149.6 L593.2,149.6 L596.6,149.5 L600.0,149.5 L603.4,149.5 L606.8,149.4 L610.2,149.4 L613.7,149.4 L617.2,149.3 L620.6,149.3 L624.0,149.3 L627.4,149.2 L630.7,149.2 L633.9,149.1 L637.0,149.1 L640.0,149.0 L642.9,148.9 L645.6,148.8 L648.2,148.7 L650.7,148.6 L653.2,148.5 L655.6,148.3 L658.0,148.2 L660.4,148.1 L662.7,147.9 L665.1,147.8 L667.5,147.6 L670.0,147.5 L672.5,147.4 L674.9,147.2 L677.3,147.0 L679.7,146.9 L682.1,146.7 L684.6,146.5 L687.0,146.4 L689.5,146.2 L692.0,146.0 L694.6,145.8 L697.3,145.7 L700.0,145.5 L703.0,145.3 L706.2,145.1 L709.6,145.0 L713.2,144.8 L716.8,144.6 L720.4,144.4 L723.9,144.2 L727.1,144.0 L730.2,143.9 L732.9,143.7 L735.2,143.6 L737.0,143.5" fill="none" stroke="#0000ff" stroke-width="5.7" stroke-dasharray="21.57 19.50" stroke-dashoffset="20.99"/>
<g fill="none" stroke="#ff0000" stroke-width="3.4"><ellipse cx="264.4" cy="497.7" rx="7.4" ry="8.1"/><ellipse cx="280.3" cy="439.1" rx="7.4" ry="8.1"/><ellipse cx="297.0" cy="439.8" rx="7.4" ry="8.1"/><ellipse cx="312.8" cy="404.1" rx="7.4" ry="8.1"/><ellipse cx="328.6" cy="416.6" rx="7.4" ry="8.1"/><ellipse cx="344.2" cy="359.2" rx="7.4" ry="8.1"/><ellipse cx="360.6" cy="345.7" rx="7.4" ry="8.1"/><ellipse cx="376.7" cy="371.6" rx="7.4" ry="8.1"/><ellipse cx="392.9" cy="366.4" rx="7.4" ry="8.1"/><ellipse cx="408.4" cy="353.7" rx="7.4" ry="8.1"/><ellipse cx="424.7" cy="350.9" rx="7.4" ry="8.1"/><ellipse cx="440.5" cy="364.3" rx="7.4" ry="8.1"/><ellipse cx="456.9" cy="339.9" rx="7.4" ry="8.1"/><ellipse cx="473.0" cy="343.1" rx="7.4" ry="8.1"/><ellipse cx="488.9" cy="345.5" rx="7.4" ry="8.1"/><ellipse cx="510.1" cy="354.2" rx="7.4" ry="8.1"/><ellipse cx="563.3" cy="332.0" rx="7.4" ry="8.1"/><ellipse cx="597.4" cy="330.9" rx="7.4" ry="8.1"/><ellipse cx="643.5" cy="343.9" rx="7.4" ry="8.1"/><ellipse cx="696.8" cy="345.5" rx="7.4" ry="8.1"/></g>
<path d="M249.5,492.5 L249.9,492.2 L250.4,491.9 L251.0,491.5 L251.7,491.1 L252.5,490.6 L253.2,490.1 L254.1,489.6 L254.9,489.1 L255.7,488.5 L256.5,488.0 L257.3,487.5 L258.0,487.0 L258.7,486.5 L259.3,486.1 L259.9,485.7 L260.5,485.3 L261.1,484.9 L261.7,484.5 L262.3,484.1 L263.0,483.6 L263.7,483.1 L264.4,482.5 L265.2,481.8 L266.0,481.0 L266.9,480.1 L267.9,479.1 L268.9,478.0 L270.0,476.9 L271.2,475.6 L272.3,474.4 L273.5,473.1 L274.6,471.8 L275.8,470.5 L276.9,469.3 L278.0,468.1 L279.0,467.0 L280.0,465.9 L281.0,464.9 L281.9,463.9 L282.9,463.0 L283.8,462.0 L284.7,461.1 L285.6,460.1 L286.5,459.1 L287.4,458.2 L288.2,457.2 L289.1,456.1 L290.0,455.0 L290.9,453.8 L291.7,452.7 L292.6,451.4 L293.4,450.1 L294.2,448.9 L295.1,447.6 L295.9,446.3 L296.7,445.0 L297.5,443.7 L298.3,442.4 L299.2,441.2 L300.0,440.0 L300.8,438.8 L301.7,437.7 L302.5,436.6 L303.3,435.5 L304.2,434.4 L305.0,433.4 L305.8,432.3 L306.7,431.3 L307.5,430.2 L308.3,429.1 L309.2,428.1 L310.0,427.0 L310.8,425.9 L311.7,424.8 L312.5,423.8 L313.3,422.7 L314.2,421.6 L315.0,420.6 L315.8,419.5 L316.7,418.4 L317.5,417.3 L318.3,416.2 L319.2,415.1 L320.0,414.0 L320.8,412.9 L321.6,411.7 L322.4,410.6 L323.2,409.4 L324.0,408.2 L324.8,407.1 L325.6,405.9 L326.4,404.7 L327.3,403.5 L328.2,402.3 L329.1,401.2 L330.0,400.0 L331.0,398.8 L332.0,397.7 L333.0,396.5 L334.1,395.4 L335.2,394.2 L336.3,393.1 L337.4,391.9 L338.6,390.7 L339.7,389.6 L340.8,388.4 L341.9,387.2 L343.0,386.0 L344.1,384.8 L345.2,383.5 L346.2,382.3 L347.3,381.0 L348.4,379.7 L349.4,378.4 L350.5,377.2 L351.6,375.9 L352.7,374.6 L353.8,373.4 L354.9,372.2 L356.0,371.0 L357.1,369.8 L358.3,368.7 L359.4,367.5 L360.6,366.4 L361.7,365.2 L362.9,364.1 L364.0,363.0 L365.2,362.0 L366.4,360.9 L367.6,359.9 L368.8,358.9 L370.0,358.0 L371.2,357.1 L372.4,356.2 L373.7,355.4 L374.9,354.6 L376.2,353.8 L377.4,353.1 L378.7,352.3 L380.0,351.6 L381.2,350.9 L382.5,350.3 L383.7,349.6 L385.0,349.0 L386.2,348.4 L387.5,347.8 L388.8,347.2 L390.0,346.7 L391.2,346.2 L392.5,345.7 L393.8,345.2 L395.0,344.7 L396.2,344.3 L397.5,343.8 L398.8,343.4 L400.0,343.0 L401.2,342.6 L402.5,342.2 L403.8,341.8 L405.0,341.5 L406.2,341.1 L407.5,340.8 L408.8,340.5 L410.0,340.2 L411.2,339.9 L412.5,339.6 L413.8,339.3 L415.0,339.0 L416.2,338.7 L417.4,338.4 L418.6,338.2 L419.8,337.9 L421.0,337.6 L422.2,337.4 L423.4,337.1 L424.6,336.9 L425.9,336.7 L427.2,336.4 L428.6,336.2 L430.0,336.0 L431.5,335.8 L433.0,335.6 L434.6,335.4 L436.3,335.2 L438.0,335.0 L439.7,334.9 L441.4,334.7 L443.1,334.6 L444.9,334.4 L446.6,334.3 L448.3,334.1 L450.0,334.0 L451.7,333.9 L453.3,333.8 L455.0,333.7 L456.6,333.6 L458.3,333.5 L459.9,333.4 L461.6,333.3 L463.3,333.2 L464.9,333.2 L466.6,333.1 L468.3,333.0 L470.0,333.0 L471.7,333.0 L473.4,332.9 L475.2,332.9 L476.9,332.9 L478.7,332.9 L480.4,332.9 L482.2,332.9 L484.0,332.9 L485.7,332.9 L487.5,332.9 L489.2,333.0 L491.0,333.0 L492.8,333.0 L494.5,333.1 L496.2,333.2 L498.0,333.3 L499.8,333.3 L501.5,333.4 L503.2,333.5 L505.0,333.6 L506.8,333.7 L508.5,333.8 L510.2,333.9 L512.0,334.0 L513.8,334.1 L515.5,334.2 L517.3,334.3 L519.0,334.4 L520.8,334.4 L522.6,334.5 L524.3,334.6 L526.1,334.7 L527.8,334.8 L529.6,334.9 L531.3,334.9 L533.0,335.0 L534.7,335.1 L536.4,335.1 L538.0,335.1 L539.7,335.2 L541.4,335.2 L543.0,335.2 L544.6,335.3 L546.3,335.3 L548.0,335.4 L549.6,335.4 L551.3,335.4 L553.0,335.5 L554.7,335.6 L556.5,335.6 L558.2,335.7 L560.0,335.8 L561.7,335.9 L563.5,336.0 L565.3,336.1 L567.0,336.1 L568.8,336.2 L570.5,336.3 L572.3,336.4 L574.0,336.5 L575.7,336.6 L577.4,336.7 L579.0,336.7 L580.7,336.8 L582.4,336.9 L584.0,337.0 L585.6,337.0 L587.3,337.1 L589.0,337.2 L590.6,337.3 L592.3,337.4 L594.0,337.5 L595.7,337.6 L597.5,337.7 L599.2,337.9 L601.0,338.0 L602.7,338.1 L604.5,338.2 L606.3,338.4 L608.0,338.5 L609.8,338.6 L611.5,338.8 L613.3,338.9 L615.0,339.0 L616.7,339.1 L618.4,339.2 L620.0,339.3 L621.7,339.4 L623.3,339.4 L624.9,339.5 L626.6,339.6 L628.2,339.6 L629.9,339.7 L631.6,339.8 L633.3,339.9 L635.0,340.0 L636.8,340.1 L638.6,340.2 L640.4,340.3 L642.3,340.5 L644.2,340.6 L646.1,340.7 L647.9,340.8 L649.8,341.0 L651.7,341.1 L653.5,341.2 L655.3,341.4 L657.0,341.5 L658.7,341.6 L660.3,341.7 L661.9,341.9 L663.5,342.0 L665.0,342.1 L666.6,342.2 L668.1,342.4 L669.6,342.5 L671.2,342.6 L672.8,342.7 L674.4,342.9 L676.0,343.0 L677.7,343.1 L679.4,343.3 L681.1,343.4 L682.9,343.6 L684.6,343.7 L686.4,343.8 L688.1,344.0 L689.9,344.1 L691.7,344.3 L693.5,344.4 L695.2,344.6 L697.0,344.7 L698.8,344.8 L700.5,345.0 L702.3,345.1 L704.1,345.3 L705.9,345.4 L707.6,345.6 L709.4,345.7 L711.1,345.8 L712.9,346.0 L714.6,346.1 L716.3,346.3 L718.0,346.4 L719.7,346.5 L721.5,346.7 L723.3,346.8 L725.2,347.0 L727.0,347.2 L728.8,347.3 L730.5,347.5 L732.1,347.6 L733.6,347.7 L735.0,347.8 L736.1,347.9 L737.0,348.0" fill="none" stroke="#ff0000" stroke-width="5.7" stroke-dasharray="21.60 19.52" stroke-dashoffset="1.03"/>
<rect x="483.3" y="197.3" width="250.7" height="66.19999999999999" fill="#fff" stroke="#6a6a6a" stroke-width="1.3"/>
<line x1="486.7" y1="214.2" x2="508.1" y2="214.2" stroke="#0000ff" stroke-width="5.6"/>
<g fill="none" stroke="#0000ff" stroke-width="3.1"><rect x="497.8" y="240.1" width="12.4" height="12.4"/></g>
<text x="524.2" y="224.1" font-family="'Liberation Serif','Times New Roman',serif" font-size="27.4" font-weight="normal" text-anchor="start" fill="#000" >Fitted Line</text>
<text x="524.2" y="257.0" font-family="'Liberation Serif','Times New Roman',serif" font-size="27.4" font-weight="normal" text-anchor="start" fill="#000" >Experimental Data</text>
<rect x="577.3" y="407" width="152.4000000000001" height="67" fill="#fff" stroke="#6a6a6a" stroke-width="1.3"/>
<line x1="580.8" y1="424.1" x2="601.7" y2="424.1" stroke="#0000ff" stroke-width="5.6"/>
<line x1="580.8" y1="456.6" x2="601.7" y2="456.6" stroke="#ff0000" stroke-width="5.6"/>
<text x="617.9" y="435" font-family="'Liberation Serif','Times New Roman',serif" font-size="27.4" fill="#000"><tspan font-style="italic">δ</tspan> = 20<tspan dx="1.6" font-style="italic">μ</tspan><tspan dx="2.2">m</tspan></text>
<text x="617.9" y="466.7" font-family="'Liberation Serif','Times New Roman',serif" font-size="27.4" fill="#000"><tspan font-style="italic">δ</tspan> = 35<tspan dx="1.6" font-style="italic">μ</tspan><tspan dx="2.2">m</tspan></text>
<text x="930" y="40.6" font-family="'Liberation Serif','Times New Roman',serif" font-size="59.5" font-weight="bold" text-anchor="start" fill="#000" >b</text>
<text x="1306.85" y="26.3" font-family="'Liberation Serif','Times New Roman',serif" font-size="36.2" font-weight="bold" text-anchor="middle" fill="#000" >Curvature of Walls</text>
<path d="M1067.2,40.8 L1067.2,487.6 L1546.6,487.6" fill="none" stroke="#505050" stroke-width="1.3"/>
<line x1="1162.3" y1="487.6" x2="1162.3" y2="482.70000000000005" stroke="#505050" stroke-width="1.3"/>
<text x="1162.3" y="527.5" font-family="'Liberation Serif','Times New Roman',serif" font-size="32" font-weight="normal" text-anchor="middle" fill="#262626" >2</text>
<line x1="1290.5" y1="487.6" x2="1290.5" y2="482.70000000000005" stroke="#505050" stroke-width="1.3"/>
<text x="1290.5" y="527.5" font-family="'Liberation Serif','Times New Roman',serif" font-size="32" font-weight="normal" text-anchor="middle" fill="#262626" >4</text>
<line x1="1418.6999999999998" y1="487.6" x2="1418.6999999999998" y2="482.70000000000005" stroke="#505050" stroke-width="1.3"/>
<text x="1418.6999999999998" y="527.5" font-family="'Liberation Serif','Times New Roman',serif" font-size="32" font-weight="normal" text-anchor="middle" fill="#262626" >6</text>
<line x1="1546.8999999999999" y1="487.6" x2="1546.8999999999999" y2="482.70000000000005" stroke="#505050" stroke-width="1.3"/>
<text x="1546.8999999999999" y="527.5" font-family="'Liberation Serif','Times New Roman',serif" font-size="32" font-weight="normal" text-anchor="middle" fill="#262626" >8</text>
<line x1="1067.2" y1="488.0" x2="1072.1000000000001" y2="488.0" stroke="#505050" stroke-width="1.3"/>
<text x="1057.8" y="500.64" font-family="'Liberation Serif','Times New Roman',serif" font-size="32" font-weight="normal" text-anchor="end" fill="#262626" >0</text>
<line x1="1067.2" y1="376.15" x2="1072.1000000000001" y2="376.15" stroke="#505050" stroke-width="1.3"/>
<text x="1057.8" y="388.78999999999996" font-family="'Liberation Serif','Times New Roman',serif" font-size="32" font-weight="normal" text-anchor="end" fill="#262626" >0.5</text>
<line x1="1067.2" y1="264.3" x2="1072.1000000000001" y2="264.3" stroke="#505050" stroke-width="1.3"/>
<text x="1057.8" y="276.94" font-family="'Liberation Serif','Times New Roman',serif" font-size="32" font-weight="normal" text-anchor="end" fill="#262626" >1</text>
<line x1="1067.2" y1="152.45000000000005" x2="1072.1000000000001" y2="152.45000000000005" stroke="#505050" stroke-width="1.3"/>
<text x="1057.8" y="165.09000000000003" font-family="'Liberation Serif','Times New Roman',serif" font-size="32" font-weight="normal" text-anchor="end" fill="#262626" >1.5</text>
<line x1="1067.2" y1="40.60000000000002" x2="1072.1000000000001" y2="40.60000000000002" stroke="#505050" stroke-width="1.3"/>
<text x="1057.8" y="53.24000000000002" font-family="'Liberation Serif','Times New Roman',serif" font-size="32" font-weight="normal" text-anchor="end" fill="#262626" >2</text>
<text transform="translate(1005.6,265.1) rotate(-90)" font-family="'Liberation Serif','Times New Roman',serif" font-size="35.8" text-anchor="middle" fill="#262626">Curvature (mm<tspan dy="-17.5" font-size="28.3">-1</tspan><tspan dy="17.5">)</tspan></text>
<text x="1306.35" y="569.7" font-family="'Liberation Serif','Times New Roman',serif" font-size="35.7" font-weight="normal" text-anchor="middle" fill="#262626" >Time (Hours)</text>
<g fill="none" stroke="#0000ff" stroke-width="3.6"><rect x="1061.1" y="482.7" width="12.0" height="12.0"/><rect x="1077.4" y="483.0" width="12.0" height="12.0"/><rect x="1093.3" y="401.7" width="12.0" height="12.0"/><rect x="1109.9" y="462.7" width="12.0" height="12.0"/><rect x="1126.2" y="253.2" width="12.0" height="12.0"/><rect x="1141.6" y="276.4" width="12.0" height="12.0"/><rect x="1158.4" y="261.8" width="12.0" height="12.0"/><rect x="1175.0" y="217.8" width="12.0" height="12.0"/><rect x="1191.3" y="221.4" width="12.0" height="12.0"/><rect x="1207.2" y="219.5" width="12.0" height="12.0"/><rect x="1223.5" y="262.9" width="12.0" height="12.0"/><rect x="1240.1" y="235.3" width="12.0" height="12.0"/><rect x="1255.5" y="237.7" width="12.0" height="12.0"/><rect x="1271.8" y="237.7" width="12.0" height="12.0"/><rect x="1288.9" y="221.8" width="12.0" height="12.0"/><rect x="1304.3" y="244.5" width="12.0" height="12.0"/><rect x="1326.3" y="230.7" width="12.0" height="12.0"/><rect x="1380.8" y="243.4" width="12.0" height="12.0"/><rect x="1414.9" y="250.4" width="12.0" height="12.0"/><rect x="1461.8" y="240.1" width="12.0" height="12.0"/><rect x="1515.8" y="241.7" width="12.0" height="12.0"/></g>
<path d="M1067.0,488.0 L1067.4,487.7 L1067.9,487.3 L1068.4,486.8 L1069.1,486.3 L1069.8,485.7 L1070.5,485.1 L1071.3,484.4 L1072.0,483.7 L1072.8,483.1 L1073.6,482.4 L1074.3,481.7 L1075.0,481.0 L1075.7,480.3 L1076.3,479.7 L1077.0,479.0 L1077.7,478.3 L1078.3,477.6 L1079.0,476.9 L1079.7,476.2 L1080.3,475.4 L1081.0,474.6 L1081.7,473.8 L1082.3,472.9 L1083.0,472.0 L1083.7,471.0 L1084.3,470.0 L1085.0,468.9 L1085.7,467.7 L1086.4,466.5 L1087.1,465.3 L1087.7,464.1 L1088.4,462.9 L1089.1,461.6 L1089.7,460.4 L1090.4,459.2 L1091.0,458.0 L1091.6,456.8 L1092.2,455.6 L1092.8,454.5 L1093.4,453.3 L1094.0,452.1 L1094.6,450.9 L1095.2,449.7 L1095.8,448.5 L1096.3,447.4 L1096.9,446.2 L1097.5,445.1 L1098.0,444.0 L1098.5,442.9 L1099.0,441.9 L1099.5,441.0 L1100.0,440.0 L1100.5,439.1 L1101.0,438.1 L1101.5,437.2 L1102.0,436.2 L1102.5,435.2 L1103.0,434.2 L1103.5,433.1 L1104.0,432.0 L1104.5,430.8 L1105.1,429.6 L1105.7,428.3 L1106.3,427.0 L1106.8,425.7 L1107.4,424.4 L1108.0,423.0 L1108.6,421.6 L1109.2,420.2 L1109.8,418.8 L1110.4,417.4 L1111.0,416.0 L1111.6,414.6 L1112.2,413.1 L1112.8,411.7 L1113.4,410.2 L1114.0,408.7 L1114.6,407.2 L1115.2,405.7 L1115.7,404.2 L1116.3,402.7 L1116.9,401.1 L1117.5,399.6 L1118.0,398.0 L1118.5,396.4 L1119.0,394.8 L1119.5,393.1 L1120.0,391.5 L1120.5,389.8 L1121.0,388.1 L1121.5,386.4 L1122.0,384.7 L1122.5,383.0 L1123.0,381.4 L1123.5,379.7 L1124.0,378.0 L1124.6,376.3 L1125.1,374.7 L1125.7,373.0 L1126.3,371.3 L1126.9,369.7 L1127.5,368.0 L1128.1,366.3 L1128.7,364.7 L1129.3,363.0 L1129.9,361.3 L1130.4,359.7 L1131.0,358.0 L1131.5,356.3 L1132.1,354.7 L1132.6,353.0 L1133.1,351.3 L1133.6,349.7 L1134.1,348.0 L1134.6,346.3 L1135.0,344.7 L1135.5,343.0 L1136.0,341.3 L1136.5,339.7 L1137.0,338.0 L1137.5,336.3 L1138.0,334.7 L1138.5,333.0 L1139.0,331.3 L1139.4,329.7 L1139.9,328.0 L1140.4,326.3 L1140.9,324.7 L1141.4,323.0 L1141.9,321.3 L1142.5,319.7 L1143.0,318.0 L1143.5,316.3 L1144.1,314.6 L1144.7,313.0 L1145.3,311.3 L1145.8,309.6 L1146.4,307.9 L1147.0,306.2 L1147.6,304.5 L1148.2,302.9 L1148.8,301.2 L1149.4,299.6 L1150.0,298.0 L1150.6,296.4 L1151.1,294.9 L1151.7,293.4 L1152.3,291.9 L1152.8,290.5 L1153.4,289.0 L1153.9,287.5 L1154.5,286.1 L1155.1,284.6 L1155.7,283.1 L1156.3,281.6 L1157.0,280.0 L1157.7,278.4 L1158.4,276.7 L1159.1,275.1 L1159.8,273.4 L1160.5,271.6 L1161.2,269.9 L1162.0,268.2 L1162.8,266.5 L1163.6,264.8 L1164.4,263.2 L1165.2,261.6 L1166.0,260.0 L1166.8,258.5 L1167.7,257.0 L1168.5,255.6 L1169.4,254.2 L1170.2,252.8 L1171.1,251.4 L1172.0,250.1 L1173.0,248.8 L1173.9,247.4 L1174.9,246.1 L1175.9,244.8 L1177.0,243.5 L1178.1,242.2 L1179.2,240.9 L1180.4,239.6 L1181.6,238.2 L1182.9,236.9 L1184.1,235.7 L1185.4,234.4 L1186.7,233.1 L1188.0,231.9 L1189.3,230.8 L1190.7,229.6 L1192.0,228.5 L1193.3,227.4 L1194.7,226.4 L1196.0,225.3 L1197.4,224.3 L1198.7,223.3 L1200.1,222.3 L1201.5,221.4 L1203.0,220.5 L1204.4,219.7 L1205.9,218.9 L1207.4,218.2 L1209.0,217.5 L1210.6,216.9 L1212.3,216.4 L1214.0,215.9 L1215.7,215.4 L1217.5,215.0 L1219.2,214.7 L1221.0,214.4 L1222.9,214.1 L1224.7,213.9 L1226.5,213.7 L1228.2,213.6 L1230.0,213.5 L1231.8,213.4 L1233.5,213.5 L1235.3,213.5 L1237.0,213.6 L1238.8,213.8 L1240.6,213.9 L1242.3,214.2 L1244.1,214.4 L1245.8,214.6 L1247.6,214.9 L1249.3,215.2 L1251.0,215.5 L1252.7,215.8 L1254.4,216.1 L1256.1,216.5 L1257.8,216.9 L1259.5,217.3 L1261.1,217.8 L1262.8,218.2 L1264.4,218.6 L1266.1,219.1 L1267.7,219.6 L1269.4,220.0 L1271.0,220.5 L1272.6,221.0 L1274.2,221.5 L1275.8,222.0 L1277.3,222.5 L1278.9,223.0 L1280.4,223.5 L1282.0,224.1 L1283.6,224.6 L1285.1,225.1 L1286.7,225.6 L1288.3,226.0 L1290.0,226.5 L1291.7,226.9 L1293.4,227.3 L1295.1,227.7 L1296.9,228.1 L1298.7,228.5 L1300.4,228.8 L1302.2,229.2 L1304.0,229.5 L1305.8,229.9 L1307.5,230.2 L1309.3,230.6 L1311.0,231.0 L1312.7,231.4 L1314.4,231.8 L1316.0,232.2 L1317.7,232.6 L1319.4,233.1 L1321.0,233.5 L1322.6,233.9 L1324.3,234.4 L1326.0,234.8 L1327.6,235.2 L1329.3,235.6 L1331.0,236.0 L1332.7,236.4 L1334.4,236.8 L1336.2,237.2 L1337.9,237.6 L1339.6,237.9 L1341.4,238.3 L1343.1,238.7 L1344.9,239.1 L1346.7,239.4 L1348.4,239.8 L1350.2,240.1 L1352.0,240.5 L1353.8,240.9 L1355.6,241.2 L1357.5,241.6 L1359.3,241.9 L1361.2,242.3 L1363.1,242.7 L1364.9,243.0 L1366.8,243.3 L1368.6,243.7 L1370.4,244.0 L1372.2,244.2 L1374.0,244.5 L1375.7,244.7 L1377.4,244.9 L1379.1,245.1 L1380.8,245.3 L1382.5,245.5 L1384.1,245.6 L1385.8,245.8 L1387.4,245.9 L1389.0,246.0 L1390.7,246.2 L1392.3,246.3 L1394.0,246.5 L1395.7,246.7 L1397.3,246.8 L1399.0,247.0 L1400.6,247.2 L1402.3,247.4 L1403.9,247.5 L1405.6,247.7 L1407.3,247.9 L1408.9,248.0 L1410.6,248.2 L1412.3,248.4 L1414.0,248.5 L1415.7,248.6 L1417.4,248.8 L1419.2,248.9 L1420.9,249.1 L1422.7,249.2 L1424.4,249.3 L1426.2,249.4 L1428.0,249.6 L1429.7,249.7 L1431.5,249.8 L1433.2,249.9 L1435.0,250.0 L1436.8,250.1 L1438.5,250.2 L1440.3,250.3 L1442.0,250.4 L1443.8,250.5 L1445.6,250.6 L1447.3,250.7 L1449.1,250.7 L1450.8,250.8 L1452.6,250.9 L1454.3,250.9 L1456.0,251.0 L1457.7,251.0 L1459.4,251.1 L1461.0,251.1 L1462.7,251.1 L1464.3,251.1 L1465.9,251.2 L1467.6,251.2 L1469.2,251.2 L1470.9,251.2 L1472.6,251.2 L1474.3,251.2 L1476.0,251.2 L1477.8,251.2 L1479.6,251.2 L1481.4,251.2 L1483.3,251.3 L1485.1,251.3 L1487.0,251.3 L1488.9,251.3 L1490.7,251.3 L1492.6,251.3 L1494.4,251.3 L1496.2,251.3 L1498.0,251.3 L1499.7,251.3 L1501.3,251.3 L1502.9,251.3 L1504.5,251.2 L1506.0,251.2 L1507.6,251.2 L1509.2,251.1 L1510.8,251.1 L1512.4,251.1 L1514.2,251.0 L1516.0,251.0 L1518.0,251.0 L1520.2,251.0 L1522.6,251.0 L1525.2,250.9 L1528.0,250.9 L1530.8,250.9 L1533.5,250.9 L1536.3,250.9 L1538.9,250.8 L1541.3,250.8 L1543.4,250.8 L1545.2,250.8 L1546.6,250.8" fill="none" stroke="#0000ff" stroke-width="5.7" stroke-dasharray="21.89 19.78" stroke-dashoffset="40.92"/>
<g fill="none" stroke="#ff0000" stroke-width="3.4"><ellipse cx="1067.1" cy="488.2" rx="7.5" ry="8.6"/><ellipse cx="1083.7" cy="488.2" rx="7.5" ry="8.6"/><ellipse cx="1099.3" cy="407.3" rx="7.5" ry="8.6"/><ellipse cx="1115.9" cy="397.5" rx="7.5" ry="8.6"/><ellipse cx="1131.4" cy="436.9" rx="7.5" ry="8.6"/><ellipse cx="1148.4" cy="447.5" rx="7.5" ry="8.6"/><ellipse cx="1164.7" cy="419.9" rx="7.5" ry="8.6"/><ellipse cx="1181.0" cy="339.7" rx="7.5" ry="8.6"/><ellipse cx="1196.9" cy="337.6" rx="7.5" ry="8.6"/><ellipse cx="1213.2" cy="361.3" rx="7.5" ry="8.6"/><ellipse cx="1229.5" cy="356.3" rx="7.5" ry="8.6"/><ellipse cx="1245.4" cy="383.6" rx="7.5" ry="8.6"/><ellipse cx="1262.0" cy="338.1" rx="7.5" ry="8.6"/><ellipse cx="1277.8" cy="379.0" rx="7.5" ry="8.6"/><ellipse cx="1294.7" cy="344.2" rx="7.5" ry="8.6"/><ellipse cx="1310.7" cy="355.9" rx="7.5" ry="8.6"/><ellipse cx="1332.6" cy="353.1" rx="7.5" ry="8.6"/><ellipse cx="1386.5" cy="373.8" rx="7.5" ry="8.6"/><ellipse cx="1420.9" cy="380.6" rx="7.5" ry="8.6"/><ellipse cx="1468.1" cy="390.4" rx="7.5" ry="8.6"/><ellipse cx="1521.8" cy="355.1" rx="7.5" ry="8.6"/></g>
<path d="M1067.0,488.0 L1067.4,487.9 L1067.9,487.9 L1068.4,487.8 L1069.0,487.7 L1069.7,487.6 L1070.4,487.4 L1071.2,487.3 L1072.0,487.2 L1072.7,487.0 L1073.5,486.9 L1074.3,486.7 L1075.0,486.5 L1075.7,486.3 L1076.4,486.1 L1077.2,486.0 L1077.9,485.8 L1078.7,485.6 L1079.4,485.4 L1080.2,485.1 L1081.0,484.9 L1081.7,484.6 L1082.5,484.3 L1083.2,483.9 L1084.0,483.5 L1084.8,483.0 L1085.5,482.5 L1086.2,482.0 L1087.0,481.4 L1087.8,480.7 L1088.5,480.1 L1089.2,479.4 L1090.0,478.7 L1090.8,478.0 L1091.5,477.3 L1092.2,476.7 L1093.0,476.0 L1093.7,475.4 L1094.4,474.8 L1095.1,474.2 L1095.7,473.6 L1096.4,473.1 L1097.1,472.5 L1097.8,471.9 L1098.5,471.2 L1099.3,470.5 L1100.1,469.7 L1101.0,468.9 L1102.0,468.0 L1103.1,467.0 L1104.3,465.9 L1105.5,464.8 L1106.9,463.6 L1108.2,462.3 L1109.6,461.0 L1111.0,459.7 L1112.5,458.3 L1113.9,457.0 L1115.3,455.6 L1116.7,454.3 L1118.0,453.0 L1119.3,451.7 L1120.6,450.4 L1121.8,449.0 L1123.1,447.7 L1124.3,446.4 L1125.6,445.0 L1126.8,443.6 L1128.0,442.3 L1129.3,441.0 L1130.5,439.6 L1131.8,438.3 L1133.0,437.0 L1134.3,435.7 L1135.5,434.4 L1136.8,433.2 L1138.1,431.9 L1139.4,430.7 L1140.6,429.4 L1141.9,428.2 L1143.1,427.0 L1144.4,425.7 L1145.6,424.5 L1146.8,423.2 L1148.0,422.0 L1149.1,420.7 L1150.3,419.5 L1151.3,418.2 L1152.4,417.0 L1153.5,415.7 L1154.5,414.4 L1155.5,413.2 L1156.6,411.9 L1157.7,410.7 L1158.7,409.4 L1159.9,408.2 L1161.0,407.0 L1162.2,405.8 L1163.4,404.6 L1164.6,403.4 L1165.8,402.2 L1167.1,401.0 L1168.3,399.8 L1169.6,398.7 L1170.9,397.5 L1172.1,396.4 L1173.4,395.2 L1174.7,394.1 L1176.0,393.0 L1177.3,391.9 L1178.6,390.8 L1179.9,389.7 L1181.3,388.6 L1182.6,387.6 L1183.9,386.5 L1185.3,385.5 L1186.6,384.5 L1188.0,383.4 L1189.3,382.5 L1190.7,381.5 L1192.0,380.5 L1193.3,379.6 L1194.6,378.6 L1195.9,377.7 L1197.1,376.8 L1198.4,375.9 L1199.7,375.0 L1201.0,374.2 L1202.3,373.3 L1203.6,372.5 L1205.0,371.6 L1206.5,370.8 L1208.0,370.0 L1209.6,369.2 L1211.2,368.4 L1212.9,367.5 L1214.7,366.7 L1216.4,365.9 L1218.2,365.1 L1220.1,364.4 L1221.9,363.6 L1223.7,362.9 L1225.5,362.2 L1227.3,361.6 L1229.0,361.0 L1230.7,360.5 L1232.4,360.0 L1234.0,359.5 L1235.7,359.1 L1237.4,358.7 L1239.0,358.3 L1240.6,357.9 L1242.3,357.6 L1244.0,357.3 L1245.6,357.0 L1247.3,356.8 L1249.0,356.5 L1250.7,356.3 L1252.4,356.1 L1254.2,355.9 L1255.9,355.7 L1257.7,355.6 L1259.4,355.4 L1261.2,355.3 L1263.0,355.2 L1264.7,355.2 L1266.5,355.1 L1268.2,355.0 L1270.0,355.0 L1271.8,355.0 L1273.5,355.0 L1275.3,355.0 L1277.0,355.0 L1278.8,355.1 L1280.6,355.1 L1282.3,355.2 L1284.1,355.3 L1285.8,355.3 L1287.6,355.4 L1289.3,355.5 L1291.0,355.5 L1292.7,355.5 L1294.4,355.6 L1296.0,355.6 L1297.7,355.6 L1299.3,355.7 L1300.9,355.7 L1302.6,355.7 L1304.2,355.8 L1305.9,355.8 L1307.6,355.9 L1309.3,355.9 L1311.0,356.0 L1312.8,356.1 L1314.6,356.2 L1316.4,356.3 L1318.3,356.4 L1320.1,356.5 L1322.0,356.6 L1323.9,356.7 L1325.7,356.8 L1327.6,357.0 L1329.4,357.1 L1331.2,357.3 L1333.0,357.5 L1334.7,357.7 L1336.4,357.9 L1338.1,358.2 L1339.8,358.4 L1341.4,358.7 L1343.1,359.0 L1344.7,359.3 L1346.3,359.6 L1348.0,359.9 L1349.6,360.3 L1351.3,360.6 L1353.0,361.0 L1354.7,361.4 L1356.5,361.8 L1358.2,362.3 L1360.0,362.8 L1361.7,363.3 L1363.5,363.8 L1365.3,364.3 L1367.0,364.8 L1368.8,365.3 L1370.5,365.7 L1372.3,366.1 L1374.0,366.5 L1375.7,366.8 L1377.4,367.1 L1379.1,367.4 L1380.7,367.7 L1382.4,367.9 L1384.1,368.2 L1385.7,368.4 L1387.4,368.6 L1389.0,368.8 L1390.7,369.0 L1392.3,369.3 L1394.0,369.5 L1395.7,369.8 L1397.3,370.0 L1399.0,370.3 L1400.6,370.5 L1402.3,370.8 L1403.9,371.0 L1405.6,371.3 L1407.3,371.5 L1408.9,371.8 L1410.6,372.0 L1412.3,372.3 L1414.0,372.5 L1415.7,372.7 L1417.4,373.0 L1419.2,373.2 L1420.9,373.4 L1422.7,373.6 L1424.4,373.8 L1426.2,374.1 L1428.0,374.3 L1429.7,374.5 L1431.5,374.6 L1433.2,374.8 L1435.0,375.0 L1436.8,375.2 L1438.5,375.3 L1440.2,375.5 L1442.0,375.7 L1443.8,375.8 L1445.5,376.0 L1447.2,376.1 L1449.0,376.3 L1450.8,376.4 L1452.5,376.4 L1454.2,376.5 L1456.0,376.5 L1457.8,376.5 L1459.5,376.5 L1461.2,376.4 L1463.0,376.3 L1464.8,376.2 L1466.5,376.1 L1468.2,376.0 L1470.0,375.8 L1471.8,375.6 L1473.5,375.4 L1475.2,375.2 L1477.0,375.0 L1478.8,374.7 L1480.5,374.5 L1482.3,374.1 L1484.0,373.8 L1485.8,373.4 L1487.6,373.1 L1489.3,372.7 L1491.1,372.3 L1492.8,372.0 L1494.6,371.6 L1496.3,371.3 L1498.0,371.0 L1499.7,370.7 L1501.3,370.5 L1502.9,370.3 L1504.4,370.1 L1506.0,370.0 L1507.5,369.8 L1509.1,369.6 L1510.7,369.4 L1512.4,369.2 L1514.2,369.0 L1516.0,368.8 L1518.0,368.5 L1520.2,368.2 L1522.6,367.8 L1525.2,367.4 L1528.0,367.0 L1530.8,366.5 L1533.5,366.1 L1536.3,365.7 L1538.9,365.2 L1541.3,364.9 L1543.4,364.5 L1545.2,364.2 L1546.6,364.0" fill="none" stroke="#ff0000" stroke-width="5.7" stroke-dasharray="22.03 19.91" stroke-dashoffset="1.71"/>
<rect x="1349.4" y="51.1" width="154.0999999999999" height="67.80000000000001" fill="#fff" stroke="#6a6a6a" stroke-width="1.3"/>
<line x1="1352.9" y1="68.7" x2="1374" y2="68.7" stroke="#0000ff" stroke-width="5.6"/>
<line x1="1352.9" y1="101.6" x2="1374" y2="101.6" stroke="#ff0000" stroke-width="5.6"/>
<text x="1390.4" y="79.8" font-family="'Liberation Serif','Times New Roman',serif" font-size="27.4" fill="#000"><tspan font-style="italic">δ</tspan> = 20<tspan dx="1.6" font-style="italic">μ</tspan><tspan dx="2.2">m</tspan></text>
<text x="1390.4" y="111.4" font-family="'Liberation Serif','Times New Roman',serif" font-size="27.4" fill="#000"><tspan font-style="italic">δ</tspan> = 35<tspan dx="1.6" font-style="italic">μ</tspan><tspan dx="2.2">m</tspan></text>
<rect x="1293.1" y="124.3" width="251.0" height="66.89999999999999" fill="#fff" stroke="#6a6a6a" stroke-width="1.3"/>
<line x1="1296.6" y1="141.9" x2="1317.7" y2="141.9" stroke="#0000ff" stroke-width="5.6"/>
<g fill="none" stroke="#0000ff" stroke-width="3.0"><rect x="1307.7" y="168.1" width="12.0" height="12.0"/></g>
<text x="1334.1" y="151.3" font-family="'Liberation Serif','Times New Roman',serif" font-size="27.4" font-weight="normal" text-anchor="start" fill="#000" >Fitted Line</text>
<text x="1334.1" y="184.1" font-family="'Liberation Serif','Times New Roman',serif" font-size="27.4" font-weight="normal" text-anchor="start" fill="#000" >Experimental Data</text>
<text x="495.8" y="742.2" font-family="'Liberation Serif','Times New Roman',serif" font-size="59.5" font-weight="bold" text-anchor="start" fill="#000" >d</text>
<text x="947.35" y="656.3" font-family="'Liberation Serif','Times New Roman',serif" font-size="35.8" font-weight="bold" text-anchor="middle" fill="#000" >Curvature vs Thickness</text>
<path d="M638.2,670.4 L638.2,1202.3 L1254.3,1202.3" fill="none" stroke="#505050" stroke-width="1.3"/>
<line x1="740.1" y1="1202.3" x2="740.1" y2="1196.1" stroke="#505050" stroke-width="1.3"/>
<text x="740.1" y="1241.4" font-family="'Liberation Serif','Times New Roman',serif" font-size="32" font-weight="normal" text-anchor="middle" fill="#262626" >1</text>
<line x1="868.6" y1="1202.3" x2="868.6" y2="1196.1" stroke="#505050" stroke-width="1.3"/>
<text x="868.6" y="1241.4" font-family="'Liberation Serif','Times New Roman',serif" font-size="32" font-weight="normal" text-anchor="middle" fill="#262626" >2</text>
<line x1="997.1" y1="1202.3" x2="997.1" y2="1196.1" stroke="#505050" stroke-width="1.3"/>
<text x="997.1" y="1241.4" font-family="'Liberation Serif','Times New Roman',serif" font-size="32" font-weight="normal" text-anchor="middle" fill="#262626" >3</text>
<line x1="1125.6" y1="1202.3" x2="1125.6" y2="1196.1" stroke="#505050" stroke-width="1.3"/>
<text x="1125.6" y="1241.4" font-family="'Liberation Serif','Times New Roman',serif" font-size="32" font-weight="normal" text-anchor="middle" fill="#262626" >4</text>
<line x1="1254.1" y1="1202.3" x2="1254.1" y2="1196.1" stroke="#505050" stroke-width="1.3"/>
<text x="1254.1" y="1241.4" font-family="'Liberation Serif','Times New Roman',serif" font-size="32" font-weight="normal" text-anchor="middle" fill="#262626" >5</text>
<line x1="638.2" y1="1202.1" x2="644.4000000000001" y2="1202.1" stroke="#505050" stroke-width="1.3"/>
<text x="628.3" y="1214.74" font-family="'Liberation Serif','Times New Roman',serif" font-size="32" font-weight="normal" text-anchor="end" fill="#262626" >0</text>
<line x1="638.2" y1="1113.48" x2="644.4000000000001" y2="1113.48" stroke="#505050" stroke-width="1.3"/>
<text x="628.3" y="1126.1200000000001" font-family="'Liberation Serif','Times New Roman',serif" font-size="32" font-weight="normal" text-anchor="end" fill="#262626" >0.2</text>
<line x1="638.2" y1="1024.86" x2="644.4000000000001" y2="1024.86" stroke="#505050" stroke-width="1.3"/>
<text x="628.3" y="1037.5" font-family="'Liberation Serif','Times New Roman',serif" font-size="32" font-weight="normal" text-anchor="end" fill="#262626" >0.4</text>
<line x1="638.2" y1="936.2399999999999" x2="644.4000000000001" y2="936.2399999999999" stroke="#505050" stroke-width="1.3"/>
<text x="628.3" y="948.8799999999999" font-family="'Liberation Serif','Times New Roman',serif" font-size="32" font-weight="normal" text-anchor="end" fill="#262626" >0.6</text>
<line x1="638.2" y1="847.6199999999999" x2="644.4000000000001" y2="847.6199999999999" stroke="#505050" stroke-width="1.3"/>
<text x="628.3" y="860.2599999999999" font-family="'Liberation Serif','Times New Roman',serif" font-size="32" font-weight="normal" text-anchor="end" fill="#262626" >0.8</text>
<line x1="638.2" y1="758.9999999999999" x2="644.4000000000001" y2="758.9999999999999" stroke="#505050" stroke-width="1.3"/>
<text x="628.3" y="771.6399999999999" font-family="'Liberation Serif','Times New Roman',serif" font-size="32" font-weight="normal" text-anchor="end" fill="#262626" >1</text>
<line x1="638.2" y1="670.3799999999999" x2="644.4000000000001" y2="670.3799999999999" stroke="#505050" stroke-width="1.3"/>
<text x="628.3" y="683.0199999999999" font-family="'Liberation Serif','Times New Roman',serif" font-size="32" font-weight="normal" text-anchor="end" fill="#262626" >1.2</text>
<text transform="translate(574.7,930.5) rotate(-90)" font-family="'Liberation Serif','Times New Roman',serif" font-size="36.4" text-anchor="middle" fill="#262626">Curvature (mm<tspan dy="-11.3" font-size="24.4">-1</tspan><tspan dy="11.3">)</tspan></text>
<text x="947.25" y="1281.2" font-family="'Liberation Serif','Times New Roman',serif" font-size="35.7" font-weight="normal" text-anchor="middle" fill="#262626" >Time (Hours)</text>
<g fill="none" stroke="#0000ff" stroke-width="3.5"><rect x="637.0" y="1196.0" width="14.1" height="14.1"/><rect x="669.0" y="1196.0" width="14.1" height="14.1"/><rect x="701.5" y="1196.0" width="14.1" height="14.1"/><rect x="733.6" y="948.9" width="14.1" height="14.1"/><rect x="765.5" y="969.8" width="14.1" height="14.1"/><rect x="797.7" y="887.2" width="14.1" height="14.1"/><rect x="829.7" y="816.2" width="14.1" height="14.1"/><rect x="862.0" y="785.5" width="14.1" height="14.1"/><rect x="894.1" y="744.8" width="14.1" height="14.1"/><rect x="926.2" y="755.1" width="14.1" height="14.1"/><rect x="958.2" y="777.1" width="14.1" height="14.1"/><rect x="990.2" y="743.9" width="14.1" height="14.1"/><rect x="1022.4" y="769.2" width="14.1" height="14.1"/><rect x="1054.5" y="782.7" width="14.1" height="14.1"/><rect x="1087.0" y="796.0" width="14.1" height="14.1"/><rect x="1119.0" y="778.8" width="14.1" height="14.1"/><rect x="1151.2" y="847.9" width="14.1" height="14.1"/><rect x="1194.4" y="828.0" width="14.1" height="14.1"/></g>
<g fill="none" stroke="#00ff00" stroke-width="3.36" stroke-linejoin="miter"><path d="M644.0,1180.5 L653.5,1192.5 L644.0,1204.5 L634.5,1192.5 Z"/><path d="M676.0,1175.0 L685.5,1187.0 L676.0,1199.0 L666.5,1187.0 Z"/><path d="M708.5,1186.5 L718.0,1198.5 L708.5,1210.5 L699.0,1198.5 Z"/><path d="M740.6,1155.3 L750.1,1167.3 L740.6,1179.3 L731.1,1167.3 Z"/><path d="M772.5,1137.9 L782.0,1149.9 L772.5,1161.9 L763.0,1149.9 Z"/><path d="M804.7,1043.8 L814.2,1055.8 L804.7,1067.8 L795.2,1055.8 Z"/><path d="M836.7,799.3 L846.2,811.3 L836.7,823.3 L827.2,811.3 Z"/><path d="M869.0,869.0 L878.5,881.0 L869.0,893.0 L859.5,881.0 Z"/><path d="M901.1,817.9 L910.6,829.9 L901.1,841.9 L891.6,829.9 Z"/><path d="M933.2,837.7 L942.7,849.7 L933.2,861.7 L923.7,849.7 Z"/><path d="M965.2,866.6 L974.7,878.6 L965.2,890.6 L955.7,878.6 Z"/><path d="M997.3,801.1 L1006.8,813.1 L997.3,825.1 L987.8,813.1 Z"/><path d="M1029.4,796.1 L1038.9,808.1 L1029.4,820.1 L1019.9,808.1 Z"/><path d="M1061.6,876.4 L1071.1,888.4 L1061.6,900.4 L1052.1,888.4 Z"/><path d="M1094.0,803.2 L1103.5,815.2 L1094.0,827.2 L1084.5,815.2 Z"/><path d="M1126.0,801.1 L1135.5,813.1 L1126.0,825.1 L1116.5,813.1 Z"/><path d="M1158.2,873.6 L1167.7,885.6 L1158.2,897.6 L1148.7,885.6 Z"/><path d="M1201.4,884.7 L1210.9,896.7 L1201.4,908.7 L1191.9,896.7 Z"/></g>
<path d="M638.0,1202.0 L639.4,1202.0 L641.1,1202.0 L643.2,1202.0 L645.6,1202.1 L648.1,1202.1 L650.8,1202.1 L653.5,1202.1 L656.2,1202.1 L658.7,1202.1 L661.1,1202.1 L663.2,1202.1 L665.0,1202.0 L666.5,1201.9 L667.8,1201.9 L669.0,1201.8 L670.0,1201.7 L670.9,1201.6 L671.8,1201.5 L672.5,1201.4 L673.2,1201.3 L673.9,1201.1 L674.6,1200.9 L675.3,1200.7 L676.0,1200.5 L676.7,1200.2 L677.4,1200.0 L678.1,1199.7 L678.7,1199.4 L679.3,1199.0 L679.8,1198.7 L680.4,1198.3 L680.9,1197.9 L681.4,1197.4 L681.9,1197.0 L682.5,1196.5 L683.0,1196.0 L683.5,1195.5 L684.0,1194.9 L684.5,1194.3 L685.0,1193.7 L685.5,1193.1 L686.0,1192.5 L686.5,1191.8 L687.0,1191.1 L687.5,1190.4 L688.0,1189.6 L688.5,1188.8 L689.0,1188.0 L689.5,1187.1 L690.1,1186.3 L690.7,1185.4 L691.3,1184.4 L691.9,1183.4 L692.5,1182.4 L693.1,1181.4 L693.7,1180.4 L694.3,1179.3 L694.9,1178.2 L695.4,1177.1 L696.0,1176.0 L696.6,1174.9 L697.1,1173.7 L697.6,1172.6 L698.2,1171.4 L698.7,1170.2 L699.2,1168.9 L699.7,1167.7 L700.3,1166.4 L700.8,1165.1 L701.4,1163.8 L701.9,1162.4 L702.5,1161.0 L703.1,1159.6 L703.7,1158.1 L704.3,1156.6 L704.9,1155.0 L705.6,1153.5 L706.2,1151.9 L706.9,1150.3 L707.5,1148.6 L708.1,1147.0 L708.8,1145.3 L709.4,1143.7 L710.0,1142.0 L710.6,1140.4 L711.1,1138.8 L711.7,1137.3 L712.2,1135.9 L712.7,1134.4 L713.2,1132.8 L713.8,1131.2 L714.3,1129.5 L714.9,1127.7 L715.5,1125.7 L716.2,1123.4 L717.0,1121.0 L717.8,1118.3 L718.7,1115.4 L719.7,1112.2 L720.6,1108.9 L721.7,1105.5 L722.7,1101.9 L723.8,1098.3 L724.9,1094.7 L725.9,1091.0 L727.0,1087.4 L728.0,1083.9 L729.0,1080.5 L730.0,1077.1 L730.9,1073.8 L731.9,1070.5 L732.8,1067.1 L733.8,1063.8 L734.7,1060.4 L735.7,1057.1 L736.6,1053.8 L737.6,1050.5 L738.5,1047.1 L739.5,1043.8 L740.5,1040.5 L741.5,1037.2 L742.5,1033.9 L743.5,1030.6 L744.5,1027.3 L745.5,1024.0 L746.5,1020.7 L747.5,1017.4 L748.5,1014.1 L749.6,1010.8 L750.7,1007.5 L751.8,1004.3 L753.0,1001.0 L754.2,997.7 L755.4,994.4 L756.7,991.2 L758.0,987.9 L759.3,984.6 L760.6,981.3 L762.0,978.0 L763.4,974.8 L764.7,971.6 L766.1,968.3 L767.6,965.2 L769.0,962.0 L770.4,958.9 L771.9,955.8 L773.4,952.7 L774.9,949.7 L776.5,946.6 L778.0,943.6 L779.6,940.6 L781.1,937.6 L782.7,934.6 L784.3,931.6 L785.9,928.6 L787.5,925.5 L789.1,922.4 L790.7,919.3 L792.3,916.2 L794.0,913.1 L795.6,910.0 L797.3,906.9 L798.9,903.8 L800.6,900.7 L802.3,897.7 L804.0,894.6 L805.7,891.5 L807.4,888.5 L809.1,885.5 L810.9,882.5 L812.6,879.5 L814.3,876.4 L816.1,873.5 L817.9,870.5 L819.7,867.5 L821.5,864.6 L823.3,861.6 L825.2,858.7 L827.1,855.9 L829.0,853.0 L831.0,850.2 L832.9,847.4 L834.9,844.6 L836.9,841.8 L839.0,839.1 L841.0,836.3 L843.1,833.6 L845.3,830.9 L847.4,828.3 L849.6,825.6 L851.8,823.0 L854.0,820.4 L856.2,817.8 L858.5,815.2 L860.8,812.6 L863.1,810.0 L865.4,807.4 L867.8,804.9 L870.2,802.3 L872.6,799.9 L875.1,797.5 L877.6,795.1 L880.2,792.9 L882.9,790.7 L885.6,788.6 L888.4,786.5 L891.2,784.5 L894.1,782.5 L897.0,780.5 L900.0,778.7 L903.0,776.9 L906.1,775.2 L909.2,773.5 L912.3,772.0 L915.5,770.6 L918.7,769.3 L922.0,768.1 L925.3,767.0 L928.6,766.0 L932.1,765.1 L935.5,764.3 L939.0,763.5 L942.5,762.9 L946.1,762.3 L949.6,761.9 L953.1,761.5 L956.6,761.2 L960.0,761.0 L963.4,760.9 L966.9,760.9 L970.3,761.0 L973.7,761.3 L977.2,761.6 L980.6,762.0 L984.0,762.4 L987.5,762.9 L990.9,763.5 L994.3,764.1 L997.6,764.7 L1001.0,765.3 L1004.3,765.9 L1007.7,766.7 L1010.9,767.4 L1014.2,768.2 L1017.5,769.1 L1020.8,770.0 L1024.0,770.9 L1027.3,771.8 L1030.5,772.8 L1033.8,773.8 L1037.1,774.8 L1040.4,775.8 L1043.7,776.8 L1047.1,777.9 L1050.4,779.0 L1053.8,780.1 L1057.1,781.2 L1060.5,782.4 L1063.9,783.5 L1067.2,784.7 L1070.6,785.9 L1073.9,787.2 L1077.2,788.4 L1080.5,789.7 L1083.8,791.0 L1087.0,792.4 L1090.2,793.7 L1093.4,795.2 L1096.6,796.6 L1099.7,798.1 L1102.9,799.5 L1106.0,801.0 L1109.2,802.4 L1112.4,803.8 L1115.6,805.2 L1118.8,806.5 L1122.0,807.8 L1125.3,809.1 L1128.5,810.4 L1131.7,811.7 L1135.0,812.9 L1138.2,814.2 L1141.5,815.4 L1144.7,816.6 L1148.0,817.7 L1151.3,818.9 L1154.5,820.0 L1157.8,821.1 L1161.1,822.2 L1164.3,823.2 L1167.6,824.2 L1170.8,825.2 L1174.1,826.2 L1177.3,827.1 L1180.6,828.0 L1183.9,828.9 L1187.2,829.8 L1190.5,830.6 L1193.8,831.4 L1197.2,832.2 L1200.7,832.9 L1204.3,833.7 L1208.1,834.3 L1211.9,835.0 L1215.8,835.6 L1219.6,836.2 L1223.3,836.8 L1226.9,837.4 L1230.4,837.9 L1233.5,838.4 L1236.4,838.8 L1239.0,839.2 L1241.3,839.6 L1243.3,839.9 L1245.0,840.2 L1246.6,840.4 L1248.0,840.6 L1249.3,840.8 L1250.4,840.9 L1251.3,841.1 L1252.2,841.2 L1252.9,841.3 L1253.6,841.4 L1254.3,841.5" fill="none" stroke="#0000ff" stroke-width="5.7" stroke-dasharray="21.91 19.80" stroke-dashoffset="7.26"/>
<path d="M638.0,1192.0 L639.0,1192.0 L640.3,1192.1 L641.8,1192.1 L643.4,1192.1 L645.3,1192.2 L647.2,1192.2 L649.2,1192.3 L651.3,1192.3 L653.5,1192.4 L655.7,1192.4 L657.9,1192.5 L660.0,1192.5 L662.2,1192.6 L664.6,1192.6 L667.1,1192.7 L669.6,1192.8 L672.2,1192.9 L674.9,1192.9 L677.5,1193.0 L680.0,1193.1 L682.5,1193.1 L684.8,1193.1 L687.0,1193.1 L689.0,1193.0 L690.8,1192.9 L692.3,1192.8 L693.8,1192.7 L695.1,1192.5 L696.3,1192.4 L697.4,1192.2 L698.5,1192.0 L699.7,1191.7 L700.8,1191.5 L702.1,1191.2 L703.5,1190.9 L705.0,1190.5 L706.7,1190.1 L708.5,1189.7 L710.4,1189.3 L712.3,1188.8 L714.3,1188.4 L716.3,1187.8 L718.4,1187.3 L720.4,1186.7 L722.3,1186.1 L724.2,1185.4 L725.9,1184.7 L727.6,1184.0 L729.1,1183.2 L730.6,1182.4 L732.0,1181.5 L733.3,1180.6 L734.6,1179.7 L735.8,1178.7 L737.0,1177.7 L738.2,1176.6 L739.4,1175.5 L740.6,1174.4 L741.8,1173.2 L743.0,1172.0 L744.2,1170.7 L745.5,1169.4 L746.7,1168.1 L748.0,1166.6 L749.2,1165.2 L750.4,1163.7 L751.6,1162.2 L752.8,1160.7 L754.0,1159.2 L755.2,1157.7 L756.4,1156.2 L757.5,1154.7 L758.6,1153.2 L759.7,1151.8 L760.8,1150.4 L761.8,1148.9 L762.9,1147.5 L763.9,1146.0 L764.9,1144.6 L765.9,1143.1 L767.0,1141.6 L768.0,1140.1 L769.0,1138.6 L770.0,1137.0 L771.0,1135.5 L772.0,1134.0 L772.9,1132.5 L773.9,1131.0 L774.8,1129.6 L775.8,1128.1 L776.7,1126.5 L777.7,1124.8 L778.7,1123.1 L779.7,1121.2 L780.8,1119.2 L782.0,1117.0 L783.2,1114.6 L784.5,1112.1 L785.8,1109.5 L787.1,1106.7 L788.5,1103.9 L789.9,1100.9 L791.3,1097.9 L792.7,1094.8 L794.2,1091.7 L795.6,1088.6 L797.1,1085.4 L798.5,1082.3 L799.9,1079.1 L801.4,1075.9 L802.9,1072.6 L804.3,1069.2 L805.8,1065.8 L807.3,1062.3 L808.8,1058.9 L810.3,1055.5 L811.8,1052.0 L813.3,1048.6 L814.7,1045.3 L816.2,1042.0 L817.6,1038.8 L819.1,1035.5 L820.5,1032.3 L821.9,1029.1 L823.3,1026.0 L824.7,1022.8 L826.1,1019.7 L827.5,1016.5 L828.9,1013.4 L830.4,1010.3 L831.8,1007.2 L833.2,1004.1 L834.6,1001.0 L836.0,998.0 L837.4,994.9 L838.8,991.9 L840.2,988.9 L841.7,985.9 L843.1,982.9 L844.5,979.9 L846.0,976.8 L847.5,973.8 L849.0,970.8 L850.6,967.7 L852.2,964.6 L853.9,961.5 L855.6,958.3 L857.3,955.1 L859.0,952.0 L860.8,948.8 L862.6,945.6 L864.4,942.4 L866.2,939.3 L868.0,936.2 L869.8,933.1 L871.6,930.1 L873.4,927.1 L875.2,924.1 L877.0,921.2 L878.8,918.3 L880.6,915.4 L882.4,912.5 L884.2,909.7 L886.1,906.8 L888.0,904.0 L889.9,901.2 L891.9,898.4 L894.0,895.7 L896.1,893.0 L898.2,890.2 L900.4,887.5 L902.6,884.7 L904.9,882.0 L907.2,879.3 L909.5,876.7 L911.9,874.1 L914.3,871.6 L916.7,869.1 L919.2,866.7 L921.8,864.4 L924.4,862.2 L927.1,859.9 L929.8,857.8 L932.6,855.7 L935.4,853.6 L938.2,851.6 L941.1,849.7 L944.0,847.9 L947.0,846.1 L950.0,844.4 L953.0,842.8 L956.1,841.3 L959.2,839.9 L962.4,838.5 L965.6,837.3 L968.9,836.1 L972.2,835.0 L975.5,833.9 L978.9,833.0 L982.2,832.1 L985.6,831.3 L989.0,830.6 L992.4,830.0 L995.8,829.4 L999.2,828.9 L1002.6,828.6 L1006.1,828.3 L1009.5,828.1 L1013.0,828.0 L1016.5,828.0 L1020.0,828.1 L1023.5,828.2 L1027.0,828.3 L1030.5,828.5 L1033.9,828.7 L1037.4,829.0 L1040.9,829.3 L1044.3,829.7 L1047.8,830.2 L1051.2,830.7 L1054.7,831.3 L1058.1,831.9 L1061.6,832.5 L1065.0,833.2 L1068.4,833.9 L1071.9,834.6 L1075.3,835.3 L1078.7,836.0 L1082.1,836.7 L1085.5,837.4 L1088.9,838.1 L1092.2,838.9 L1095.6,839.7 L1099.0,840.4 L1102.3,841.3 L1105.7,842.1 L1109.0,842.9 L1112.4,843.8 L1115.7,844.6 L1119.1,845.5 L1122.5,846.4 L1125.8,847.4 L1129.2,848.4 L1132.6,849.4 L1135.9,850.5 L1139.3,851.5 L1142.7,852.6 L1146.0,853.6 L1149.4,854.6 L1152.8,855.6 L1156.1,856.5 L1159.5,857.3 L1162.9,858.1 L1166.2,858.8 L1169.6,859.6 L1173.0,860.2 L1176.3,860.9 L1179.7,861.5 L1183.0,862.1 L1186.4,862.7 L1189.8,863.2 L1193.2,863.7 L1196.6,864.2 L1200.0,864.6 L1203.5,865.0 L1207.2,865.3 L1211.0,865.6 L1214.8,865.9 L1218.7,866.1 L1222.5,866.3 L1226.2,866.5 L1229.8,866.6 L1233.1,866.7 L1236.2,866.9 L1239.0,867.0 L1241.5,867.1 L1243.6,867.2 L1245.4,867.3 L1247.0,867.4 L1248.4,867.4 L1249.5,867.4 L1250.5,867.5 L1251.3,867.5 L1252.0,867.5 L1252.7,867.5 L1253.2,867.5 L1253.8,867.5 L1254.3,867.5" fill="none" stroke="#00ff00" stroke-width="5.7" stroke-dasharray="21.87 19.76" stroke-dashoffset="0.54"/>
<g fill="none" stroke="#ff0000" stroke-width="3.45"><ellipse cx="644.0" cy="1203.0" rx="9.5" ry="9.5"/><ellipse cx="676.0" cy="1203.0" rx="9.5" ry="9.5"/><ellipse cx="708.5" cy="1203.0" rx="9.5" ry="9.5"/><ellipse cx="740.6" cy="1142.3" rx="9.5" ry="9.5"/><ellipse cx="772.5" cy="1131.1" rx="9.5" ry="9.5"/><ellipse cx="804.7" cy="1079.8" rx="9.5" ry="9.5"/><ellipse cx="836.7" cy="1013.6" rx="9.5" ry="9.5"/><ellipse cx="869.0" cy="916.2" rx="9.5" ry="9.5"/><ellipse cx="901.1" cy="964.3" rx="9.5" ry="9.5"/><ellipse cx="933.2" cy="925.3" rx="9.5" ry="9.5"/><ellipse cx="965.2" cy="979.0" rx="9.5" ry="9.5"/><ellipse cx="997.3" cy="988.0" rx="9.5" ry="9.5"/><ellipse cx="1029.4" cy="959.5" rx="9.5" ry="9.5"/><ellipse cx="1061.6" cy="992.2" rx="9.5" ry="9.5"/><ellipse cx="1094.0" cy="942.0" rx="9.5" ry="9.5"/><ellipse cx="1126.0" cy="987.1" rx="9.5" ry="9.5"/><ellipse cx="1158.2" cy="969.2" rx="9.5" ry="9.5"/><ellipse cx="1201.4" cy="968.5" rx="9.5" ry="9.5"/></g>
<path d="M682.0,1201.2 L683.0,1201.0 L684.2,1200.8 L685.7,1200.5 L687.3,1200.2 L689.1,1199.9 L691.0,1199.5 L692.9,1199.1 L694.8,1198.7 L696.7,1198.2 L698.4,1197.7 L700.1,1197.2 L701.5,1196.6 L702.8,1196.0 L704.0,1195.3 L705.1,1194.6 L706.2,1193.9 L707.2,1193.2 L708.2,1192.4 L709.1,1191.5 L710.1,1190.7 L711.0,1189.8 L712.0,1188.9 L713.0,1188.0 L714.0,1187.0 L715.1,1186.0 L716.1,1185.0 L717.2,1183.9 L718.2,1182.8 L719.3,1181.7 L720.4,1180.6 L721.4,1179.4 L722.5,1178.3 L723.6,1177.1 L724.6,1175.9 L725.7,1174.7 L726.8,1173.5 L727.9,1172.3 L729.0,1171.1 L730.0,1169.9 L731.1,1168.6 L732.2,1167.4 L733.3,1166.1 L734.4,1164.9 L735.5,1163.6 L736.6,1162.3 L737.7,1161.0 L738.8,1159.8 L740.0,1158.5 L741.2,1157.2 L742.4,1156.0 L743.6,1154.7 L744.9,1153.4 L746.1,1152.1 L747.4,1150.8 L748.7,1149.5 L749.9,1148.2 L751.2,1146.9 L752.4,1145.6 L753.6,1144.3 L754.8,1143.0 L756.0,1141.7 L757.1,1140.4 L758.2,1139.0 L759.3,1137.7 L760.4,1136.4 L761.5,1135.0 L762.6,1133.7 L763.7,1132.4 L764.7,1131.0 L765.8,1129.7 L766.9,1128.3 L768.0,1127.0 L769.1,1125.7 L770.1,1124.5 L771.1,1123.4 L772.0,1122.3 L773.0,1121.2 L774.0,1120.1 L775.0,1118.9 L776.1,1117.6 L777.2,1116.2 L778.5,1114.6 L779.8,1112.9 L781.3,1110.9 L782.9,1108.7 L784.6,1106.2 L786.5,1103.6 L788.4,1100.8 L790.4,1097.9 L792.4,1094.9 L794.5,1091.8 L796.6,1088.7 L798.7,1085.6 L800.9,1082.6 L802.9,1079.6 L805.0,1076.7 L807.0,1073.9 L809.1,1071.1 L811.1,1068.3 L813.2,1065.5 L815.3,1062.7 L817.4,1059.9 L819.5,1057.2 L821.6,1054.4 L823.7,1051.6 L825.8,1048.9 L827.9,1046.1 L830.0,1043.3 L832.1,1040.5 L834.2,1037.7 L836.3,1034.9 L838.4,1032.0 L840.5,1029.2 L842.6,1026.4 L844.8,1023.6 L846.9,1020.8 L849.1,1018.0 L851.3,1015.3 L853.5,1012.6 L855.7,1010.0 L857.9,1007.4 L860.2,1004.8 L862.4,1002.2 L864.6,999.7 L866.9,997.2 L869.1,994.7 L871.5,992.3 L873.8,989.9 L876.3,987.6 L878.7,985.3 L881.3,983.1 L884.0,981.0 L886.8,978.9 L889.6,976.9 L892.5,974.9 L895.5,972.9 L898.6,971.0 L901.7,969.2 L904.9,967.4 L908.0,965.8 L911.3,964.2 L914.5,962.8 L917.7,961.6 L921.0,960.5 L924.3,959.6 L927.6,958.8 L931.0,958.2 L934.4,957.8 L937.8,957.4 L941.3,957.2 L944.8,957.1 L948.2,957.0 L951.7,956.9 L955.2,956.9 L958.7,957.0 L962.1,957.0 L965.5,957.1 L969.0,957.3 L972.4,957.5 L975.9,957.8 L979.3,958.2 L982.8,958.6 L986.2,959.0 L989.7,959.5 L993.1,959.9 L996.5,960.4 L999.9,960.8 L1003.2,961.2 L1006.5,961.6 L1009.7,961.9 L1013.0,962.3 L1016.1,962.7 L1019.3,963.1 L1022.4,963.5 L1025.6,963.9 L1028.8,964.2 L1032.0,964.6 L1035.3,965.0 L1038.7,965.3 L1042.1,965.7 L1045.6,966.1 L1049.2,966.4 L1052.9,966.8 L1056.6,967.1 L1060.3,967.5 L1064.1,967.8 L1067.9,968.1 L1071.6,968.5 L1075.4,968.8 L1079.1,969.1 L1082.8,969.3 L1086.4,969.6 L1090.0,969.8 L1093.5,970.1 L1097.0,970.3 L1100.4,970.5 L1103.9,970.7 L1107.3,970.8 L1110.7,971.0 L1114.1,971.1 L1117.6,971.3 L1121.0,971.4 L1124.4,971.6 L1127.9,971.7 L1131.4,971.8 L1134.9,972.0 L1138.3,972.1 L1141.8,972.2 L1145.3,972.3 L1148.8,972.4 L1152.3,972.5 L1155.8,972.5 L1159.3,972.6 L1162.8,972.6 L1166.2,972.7 L1169.7,972.7 L1173.2,972.7 L1176.6,972.7 L1180.0,972.6 L1183.5,972.6 L1186.9,972.5 L1190.3,972.5 L1193.7,972.4 L1197.2,972.3 L1200.6,972.2 L1204.1,972.1 L1207.6,972.1 L1211.1,972.0 L1214.8,971.9 L1218.7,971.9 L1222.8,971.8 L1227.0,971.7 L1231.2,971.7 L1235.3,971.6 L1239.3,971.5 L1243.0,971.5 L1246.5,971.4 L1249.6,971.4 L1252.2,971.3 L1254.3,971.3" fill="none" stroke="#ff0000" stroke-width="5.7" stroke-dasharray="21.86 19.76" stroke-dashoffset="39.65"/>
<g fill="none" stroke="#00ffff" stroke-width="3.36" stroke-linejoin="miter"><path d="M644.0,1192.0 L653.5,1204.0 L644.0,1216.0 L634.5,1204.0 Z"/><path d="M676.0,1192.0 L685.5,1204.0 L676.0,1216.0 L666.5,1204.0 Z"/><path d="M708.5,1192.0 L718.0,1204.0 L708.5,1216.0 L699.0,1204.0 Z"/><path d="M740.6,1163.0 L750.1,1175.0 L740.6,1187.0 L731.1,1175.0 Z"/><path d="M772.5,1123.5 L782.0,1135.5 L772.5,1147.5 L763.0,1135.5 Z"/><path d="M804.7,1137.4 L814.2,1149.4 L804.7,1161.4 L795.2,1149.4 Z"/><path d="M836.7,1129.6 L846.2,1141.6 L836.7,1153.6 L827.2,1141.6 Z"/><path d="M869.0,1140.0 L878.5,1152.0 L869.0,1164.0 L859.5,1152.0 Z"/><path d="M901.1,1133.3 L910.6,1145.3 L901.1,1157.3 L891.6,1145.3 Z"/><path d="M933.2,1141.3 L942.7,1153.3 L933.2,1165.3 L923.7,1153.3 Z"/><path d="M965.2,1131.9 L974.7,1143.9 L965.2,1155.9 L955.7,1143.9 Z"/><path d="M997.3,1133.3 L1006.8,1145.3 L997.3,1157.3 L987.8,1145.3 Z"/><path d="M1029.4,1140.2 L1038.9,1152.2 L1029.4,1164.2 L1019.9,1152.2 Z"/><path d="M1061.6,1163.9 L1071.1,1175.9 L1061.6,1187.9 L1052.1,1175.9 Z"/><path d="M1094.0,1148.2 L1103.5,1160.2 L1094.0,1172.2 L1084.5,1160.2 Z"/><path d="M1126.0,1161.8 L1135.5,1173.8 L1126.0,1185.8 L1116.5,1173.8 Z"/><path d="M1158.2,1143.7 L1167.7,1155.7 L1158.2,1167.7 L1148.7,1155.7 Z"/><path d="M1201.4,1151.8 L1210.9,1163.8 L1201.4,1175.8 L1191.9,1163.8 Z"/></g>
<path d="M678.5,1203.0 L679.0,1203.0 L679.6,1203.0 L680.3,1203.0 L681.0,1203.0 L681.8,1203.0 L682.7,1203.0 L683.7,1203.0 L684.7,1203.0 L685.8,1202.9 L687.0,1202.8 L688.2,1202.7 L689.5,1202.5 L690.9,1202.3 L692.4,1202.0 L694.0,1201.7 L695.7,1201.4 L697.4,1201.0 L699.2,1200.6 L701.0,1200.2 L702.9,1199.8 L704.7,1199.4 L706.5,1198.9 L708.3,1198.5 L710.0,1198.0 L711.7,1197.5 L713.3,1197.1 L715.0,1196.6 L716.7,1196.1 L718.3,1195.5 L720.0,1195.0 L721.6,1194.5 L723.3,1193.9 L724.9,1193.3 L726.5,1192.7 L728.1,1192.1 L729.7,1191.4 L731.3,1190.7 L732.8,1190.0 L734.4,1189.3 L735.9,1188.5 L737.4,1187.7 L739.0,1186.9 L740.5,1186.1 L742.0,1185.3 L743.5,1184.5 L745.0,1183.6 L746.5,1182.8 L748.0,1182.0 L749.5,1181.2 L751.0,1180.4 L752.5,1179.5 L754.0,1178.7 L755.5,1177.8 L757.0,1177.0 L758.4,1176.1 L759.9,1175.3 L761.4,1174.4 L762.9,1173.6 L764.5,1172.8 L766.0,1172.0 L767.5,1171.2 L769.1,1170.4 L770.7,1169.6 L772.2,1168.9 L773.8,1168.1 L775.4,1167.3 L777.0,1166.6 L778.6,1165.8 L780.2,1165.1 L781.8,1164.4 L783.4,1163.7 L785.0,1163.0 L786.6,1162.3 L788.2,1161.7 L789.9,1161.1 L791.5,1160.5 L793.1,1159.9 L794.8,1159.3 L796.4,1158.7 L798.1,1158.1 L799.7,1157.5 L801.3,1157.0 L803.0,1156.4 L804.6,1155.8 L806.2,1155.2 L807.8,1154.6 L809.4,1154.0 L811.0,1153.4 L812.6,1152.8 L814.2,1152.2 L815.8,1151.7 L817.4,1151.1 L819.1,1150.5 L820.7,1150.0 L822.3,1149.5 L824.0,1149.0 L825.7,1148.5 L827.4,1148.1 L829.1,1147.6 L830.8,1147.2 L832.6,1146.8 L834.3,1146.4 L836.0,1146.0 L837.8,1145.6 L839.5,1145.3 L841.3,1144.9 L843.0,1144.6 L844.7,1144.3 L846.4,1144.0 L848.1,1143.7 L849.8,1143.5 L851.5,1143.2 L853.2,1143.0 L854.8,1142.8 L856.5,1142.6 L858.2,1142.4 L859.9,1142.2 L861.6,1142.1 L863.3,1141.9 L865.0,1141.8 L866.7,1141.7 L868.4,1141.6 L870.2,1141.5 L871.9,1141.4 L873.7,1141.4 L875.4,1141.3 L877.2,1141.3 L878.9,1141.2 L880.6,1141.2 L882.4,1141.2 L884.1,1141.1 L885.8,1141.1 L887.5,1141.1 L889.2,1141.0 L890.9,1141.0 L892.5,1141.0 L894.2,1141.0 L895.8,1141.0 L897.5,1140.9 L899.2,1140.9 L900.9,1140.9 L902.6,1141.0 L904.3,1141.0 L906.0,1141.0 L907.8,1141.0 L909.5,1141.1 L911.3,1141.1 L913.1,1141.2 L915.0,1141.2 L916.8,1141.3 L918.6,1141.4 L920.4,1141.4 L922.3,1141.5 L924.1,1141.6 L925.8,1141.7 L927.6,1141.8 L929.3,1141.9 L931.1,1142.0 L932.8,1142.1 L934.5,1142.3 L936.1,1142.4 L937.8,1142.5 L939.5,1142.7 L941.2,1142.8 L942.9,1143.0 L944.6,1143.2 L946.3,1143.3 L948.0,1143.5 L949.7,1143.7 L951.5,1143.9 L953.2,1144.1 L955.0,1144.3 L956.8,1144.5 L958.5,1144.7 L960.3,1144.9 L962.1,1145.1 L963.8,1145.3 L965.6,1145.5 L967.3,1145.8 L969.1,1146.0 L970.9,1146.2 L972.6,1146.5 L974.4,1146.7 L976.1,1147.0 L977.9,1147.2 L979.6,1147.5 L981.4,1147.8 L983.1,1148.0 L984.9,1148.3 L986.6,1148.5 L988.3,1148.8 L990.0,1149.0 L991.7,1149.2 L993.4,1149.4 L995.0,1149.7 L996.7,1149.9 L998.4,1150.1 L1000.0,1150.3 L1001.6,1150.5 L1003.3,1150.7 L1004.9,1150.9 L1006.6,1151.1 L1008.2,1151.3 L1009.9,1151.5 L1011.6,1151.7 L1013.2,1151.9 L1014.9,1152.1 L1016.5,1152.3 L1018.2,1152.5 L1019.9,1152.8 L1021.5,1153.0 L1023.2,1153.2 L1024.9,1153.4 L1026.6,1153.6 L1028.3,1153.8 L1030.0,1154.0 L1031.7,1154.2 L1033.5,1154.4 L1035.2,1154.6 L1037.0,1154.8 L1038.8,1155.0 L1040.6,1155.2 L1042.3,1155.4 L1044.1,1155.6 L1045.9,1155.8 L1047.7,1156.0 L1049.4,1156.2 L1051.2,1156.4 L1052.9,1156.6 L1054.7,1156.8 L1056.4,1157.0 L1058.1,1157.3 L1059.8,1157.5 L1061.6,1157.7 L1063.3,1157.9 L1065.0,1158.1 L1066.7,1158.4 L1068.5,1158.6 L1070.2,1158.8 L1072.0,1159.0 L1073.8,1159.2 L1075.6,1159.4 L1077.4,1159.6 L1079.2,1159.8 L1081.0,1160.0 L1082.8,1160.2 L1084.6,1160.4 L1086.5,1160.6 L1088.3,1160.8 L1090.1,1161.0 L1091.9,1161.1 L1093.7,1161.3 L1095.5,1161.5 L1097.3,1161.6 L1099.1,1161.8 L1100.8,1161.9 L1102.6,1162.1 L1104.4,1162.2 L1106.2,1162.4 L1107.9,1162.5 L1109.7,1162.7 L1111.5,1162.8 L1113.2,1162.9 L1115.0,1163.0 L1116.8,1163.1 L1118.5,1163.2 L1120.3,1163.2 L1122.0,1163.3 L1123.8,1163.4 L1125.5,1163.4 L1127.3,1163.5 L1129.0,1163.5 L1130.7,1163.6 L1132.5,1163.6 L1134.2,1163.7 L1135.9,1163.8 L1137.6,1163.9 L1139.3,1164.0 L1141.0,1164.1 L1142.6,1164.3 L1144.3,1164.4 L1145.9,1164.5 L1147.6,1164.7 L1149.3,1164.8 L1150.9,1164.9 L1152.6,1165.1 L1154.3,1165.2 L1156.0,1165.3 L1157.7,1165.4 L1159.2,1165.5 L1160.7,1165.7 L1162.2,1165.8 L1163.6,1165.9 L1165.1,1166.0 L1166.7,1166.1 L1168.4,1166.2 L1170.3,1166.3 L1172.3,1166.4 L1174.5,1166.5 L1177.0,1166.6 L1179.8,1166.7 L1182.8,1166.7 L1186.1,1166.7 L1189.6,1166.7 L1193.3,1166.8 L1197.0,1166.8 L1200.8,1166.8 L1204.6,1166.8 L1208.3,1166.8 L1212.0,1166.8 L1215.5,1166.9 L1218.8,1166.9 L1222.1,1167.0 L1225.5,1167.0 L1228.9,1167.1 L1232.4,1167.2 L1235.8,1167.4 L1239.2,1167.5 L1242.3,1167.6 L1245.3,1167.7 L1248.1,1167.8 L1250.5,1167.9 L1252.6,1167.9 L1254.3,1168.0" fill="none" stroke="#00ffff" stroke-width="5.7" stroke-dasharray="21.91 19.80" stroke-dashoffset="41.66"/>
<rect x="1020.7" y="1004.7" width="230.5" height="132.79999999999995" fill="#fff" stroke="#6a6a6a" stroke-width="1.3"/>
<line x1="1024.5" y1="1022.2" x2="1045.4" y2="1022.2" stroke="#0000ff" stroke-width="5.6"/>
<line x1="1024.5" y1="1055.1" x2="1045.4" y2="1055.1" stroke="#00ff00" stroke-width="5.6"/>
<line x1="1024.5" y1="1087.1" x2="1045.4" y2="1087.1" stroke="#ff0000" stroke-width="5.6"/>
<line x1="1024.5" y1="1120.4" x2="1045.4" y2="1120.4" stroke="#00ffff" stroke-width="5.6"/>
<text x="1062.3" y="1032.7" font-family="'Liberation Serif','Times New Roman',serif" font-size="27.4" fill="#000"><tspan font-style="italic">δ</tspan> = 20<tspan dx="1.6" font-style="italic">μ</tspan><tspan dx="2.2">m</tspan></text>
<text x="1062.3" y="1065.1" font-family="'Liberation Serif','Times New Roman',serif" font-size="27.4" fill="#000"><tspan font-style="italic">δ</tspan> = 25<tspan dx="1.6" font-style="italic">μ</tspan><tspan dx="2.2">m</tspan></text>
<text x="1062.3" y="1097.4" font-family="'Liberation Serif','Times New Roman',serif" font-size="27.4" fill="#000"><tspan font-style="italic">δ</tspan> = 35<tspan dx="1.6" font-style="italic">μ</tspan><tspan dx="2.2">m</tspan></text>
<text x="1062.3" y="1130.3" font-family="'Liberation Serif','Times New Roman',serif" font-size="27.4" fill="#000"><tspan font-style="italic">δ</tspan> = 70 &amp; <tspan dx="1.5">140</tspan><tspan dx="1.6" font-style="italic">μ</tspan><tspan dx="2.2">m</tspan></text>
<polygon points="630.1,1171.5 619.1,1189 457.8,1092.9 448.1,1107.6 438.5,1068.1 478.4,1058.5 469.4,1073.6" fill="#4472c4"/>
<polygon points="1252.8,1140.1 1262,1153.6 1395.6,1063.5 1406.5,1079.5 1414.5,1040 1374.4,1032 1385.3,1049.2" fill="#4472c4"/>
<text x="8.3" y="742" font-family="'Liberation Serif','Times New Roman',serif" font-size="59.5" font-weight="bold" text-anchor="start" fill="#000" >c</text>
<text x="1289.3" y="742" font-family="'Liberation Serif','Times New Roman',serif" font-size="59.5" font-weight="bold" text-anchor="start" fill="#000" >e</text>
</svg></body></html>
